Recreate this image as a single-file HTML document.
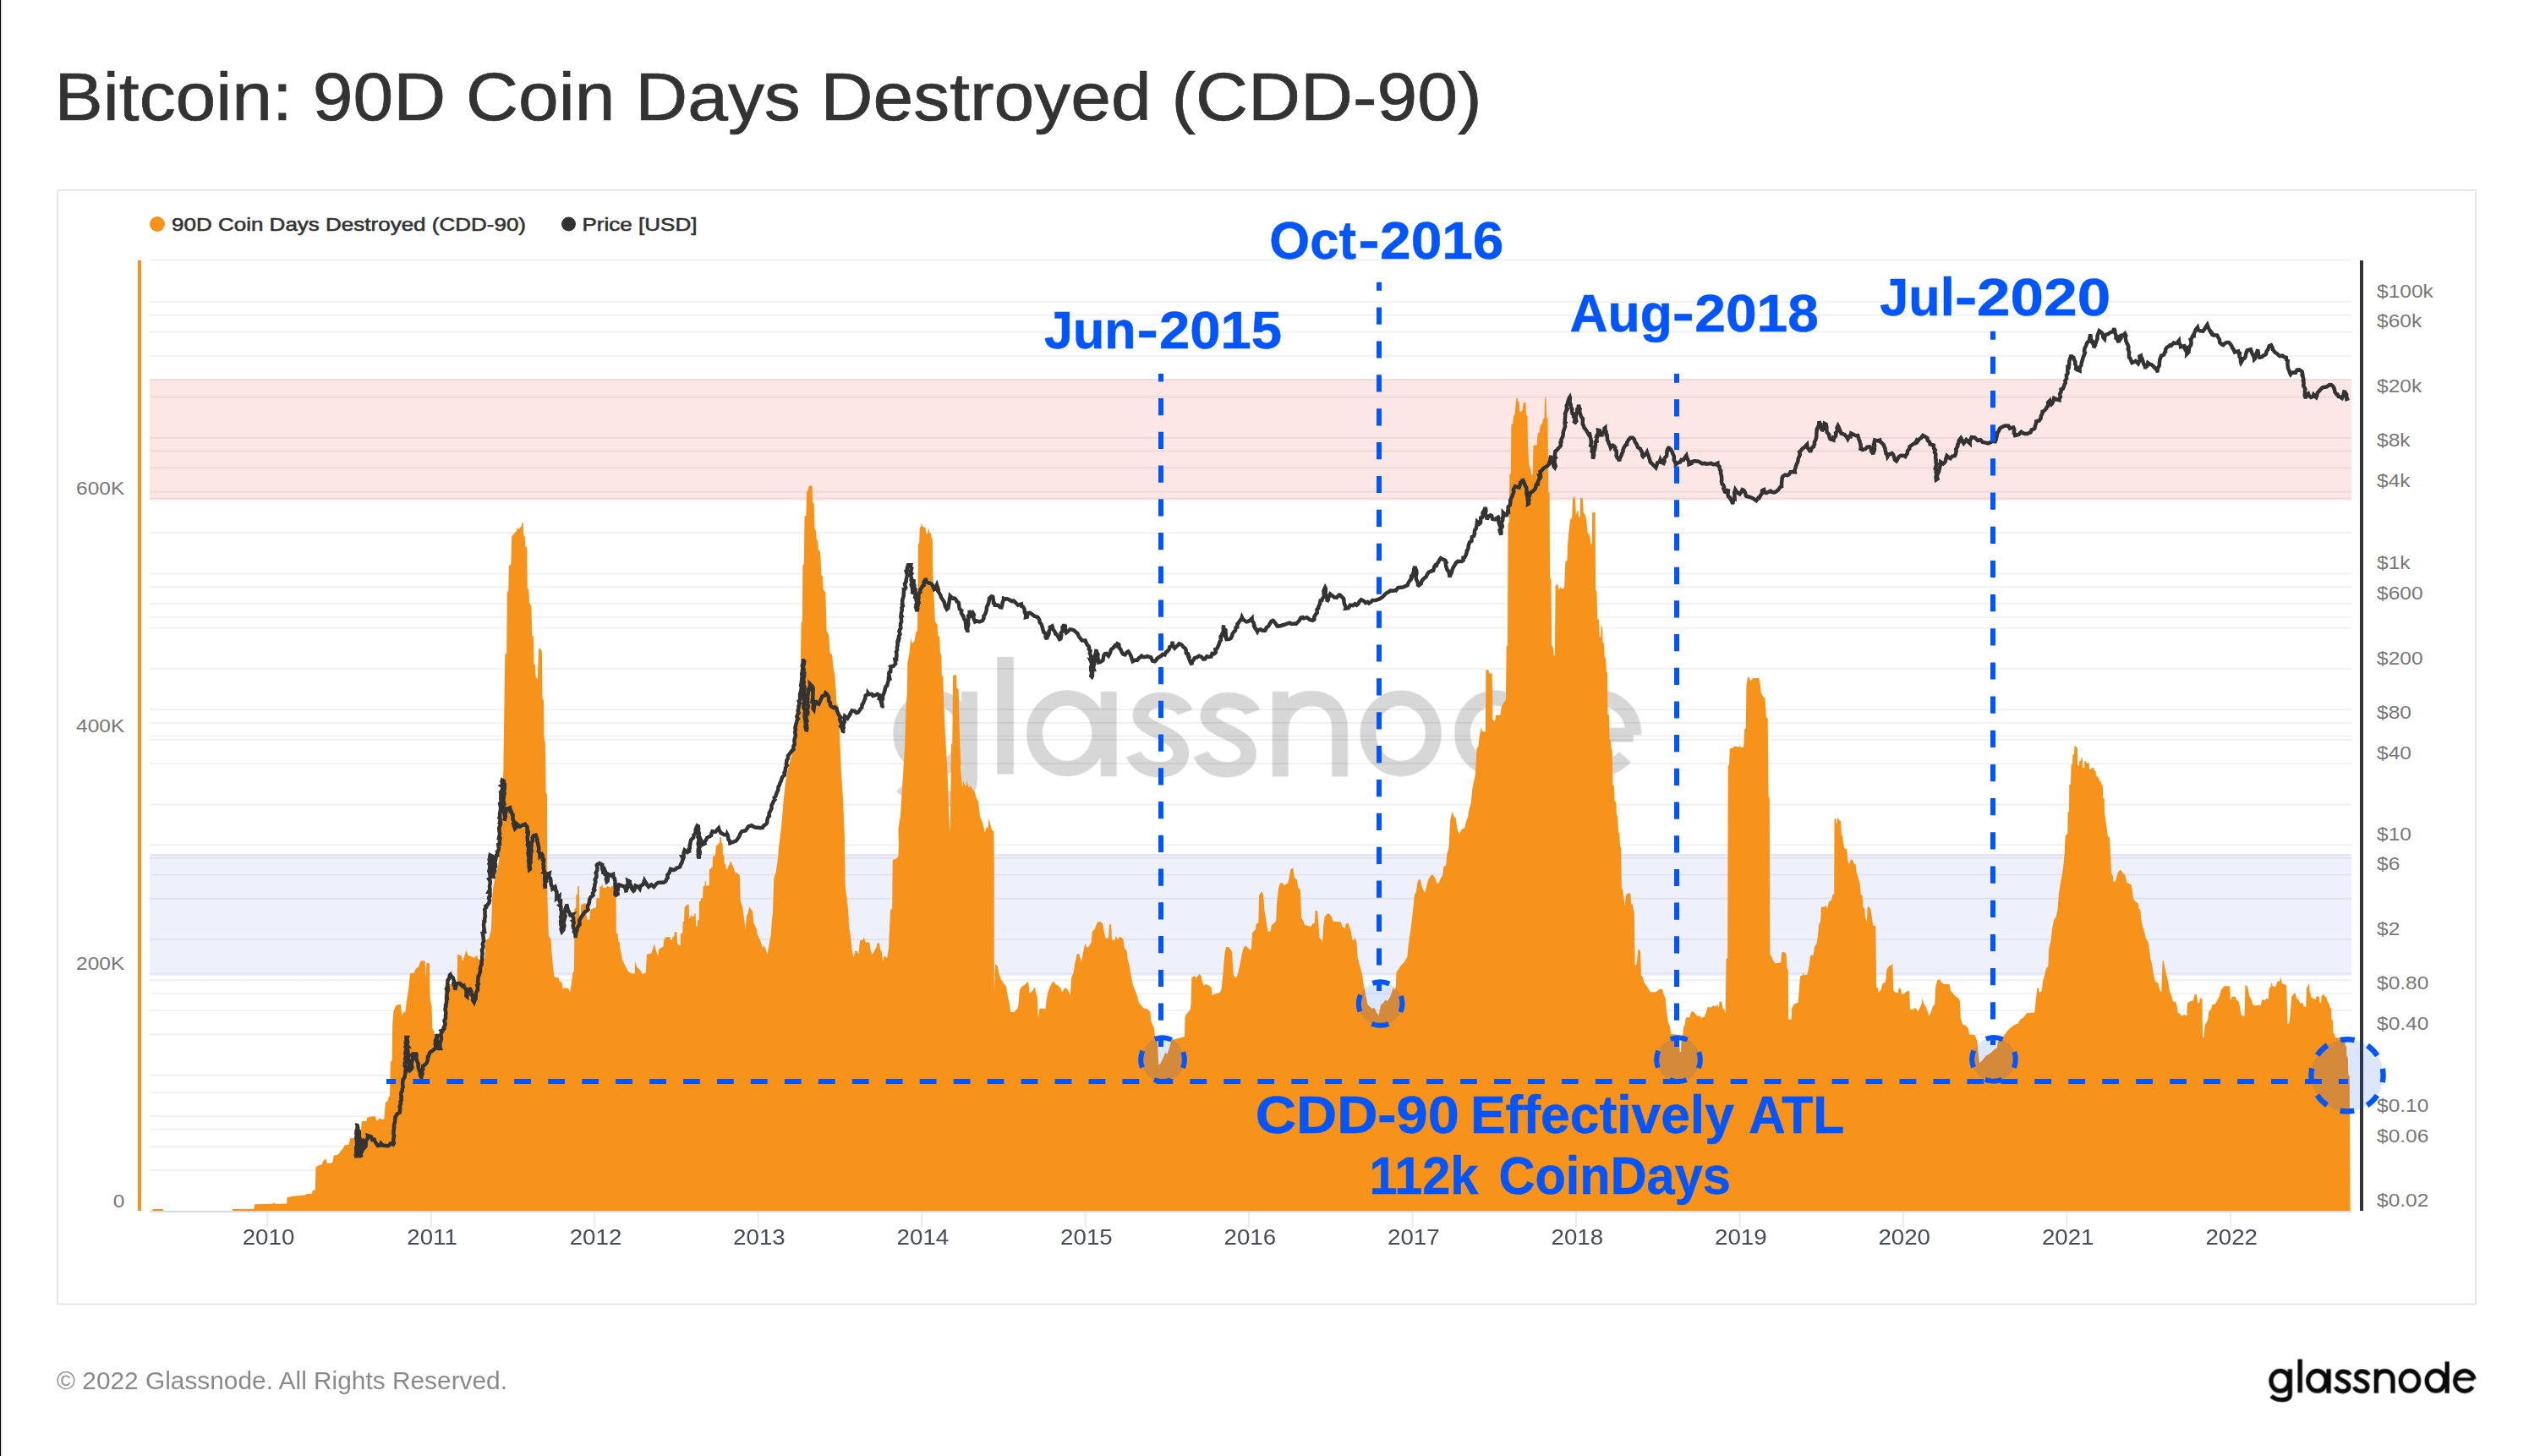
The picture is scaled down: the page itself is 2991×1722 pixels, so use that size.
<!DOCTYPE html>
<html><head><meta charset="utf-8"><title>Bitcoin: 90D Coin Days Destroyed (CDD-90)</title>
<style>html,body{margin:0;padding:0;background:#fff;}body{width:2991px;height:1722px;overflow:hidden;position:relative;font-family:"Liberation Sans",sans-serif;}svg{position:absolute;left:0;top:0;}text{font-family:"Liberation Sans",sans-serif;}</style></head><body>
<svg width="2991" height="1722" viewBox="0 0 2991 1722">
<defs><g id="gn" fill="none" stroke-width="49" stroke-linecap="butt" stroke-linejoin="round"><ellipse cx="250" cy="404" rx="100.5" ry="111.5"/><path d="M359.5,272 V548 C359.5,600 320,613 262,613 C215,612 180,598 152,570"/><path d="M470,163 V533" stroke-width="51"/><ellipse cx="660" cy="404" rx="100.5" ry="111.5"/><path d="M787.5,272 V540"/><path id="gs" d="M1022,338 C1005,292 895,278 886,345 C880,398 1008,398 1010,466 C1012,532 892,540 864,470"/><use href="#gs" x="207"/><path d="M1315,272 V540 M1315,400 C1315,325 1365,294 1410,294 C1460,294 1498,325 1498,395 V540"/><ellipse cx="1685" cy="404" rx="100.5" ry="111.5"/><ellipse cx="1975" cy="404" rx="100.5" ry="111.5"/><path d="M2099.5,190 V540"/></g><g id="ge1" fill="none" stroke-width="49"><path d="M2193,385 H2397" stroke-width="34"/><path d="M2397.4,386 A105.5,111.5 0 1 0 2381,468"/></g><g id="ge2" fill="none" stroke-width="49"><path d="M2193,409 H2400" stroke-width="45"/><path d="M2400.3,409 A105.5,111.5 0 1 0 2374,478"/></g></defs>
<rect x="0" y="0" width="2991" height="1722" fill="#fff"/>
<rect x="0" y="0" width="1.2" height="1722" fill="#000"/>
<rect x="1.2" y="0" width="1.6" height="1722" fill="#e6e6e6"/>
<text id="title" x="64.5" y="142" font-size="79.6" fill="#333" stroke="#333" stroke-width="0.7" textLength="1688" lengthAdjust="spacingAndGlyphs">Bitcoin: 90D Coin Days Destroyed (CDD-90)</text>
<rect x="68" y="225" width="2860" height="1317.5" fill="none" stroke="#e6e6e6" stroke-width="2"/>
<circle cx="186" cy="265" r="9" fill="#f7931a"/>
<text id="leg1" x="203" y="273.1" font-size="22.8" fill="#333" stroke="#333" stroke-width="0.6" textLength="419" lengthAdjust="spacingAndGlyphs">90D Coin Days Destroyed (CDD-90)</text>
<circle cx="672.5" cy="265" r="8.5" fill="#333"/>
<text id="leg2" x="688.5" y="273.1" font-size="22.8" fill="#333" stroke="#333" stroke-width="0.6" textLength="136" lengthAdjust="spacingAndGlyphs">Price [USD]</text>
<rect x="177" y="448" width="2604" height="143.7" fill="#fde6e6"/>
<rect x="177" y="1010" width="2604" height="144" fill="#eef0fc"/>
<path d="M177,1432.5H2781 M177,1384.1H2781 M177,1355.8H2781 M177,1335.7H2781 M177,1320.2H2781 M177,1271.8H2781 M177,1223.4H2781 M177,1195.1H2781 M177,1175.0H2781 M177,1159.4H2781 M177,1111.0H2781 M177,1062.6H2781 M177,1034.5H2781 M177,1014.7H2781 M177,999.3H2781 M177,951.6H2781 M177,903.2H2781 M177,874.9H2781 M177,854.8H2781 M177,839.2H2781 M177,790.9H2781 M177,742.5H2781 M177,714.2H2781 M177,694.1H2781 M177,678.5H2781 M177,630.1H2781 M177,581.7H2781 M177,553.4H2781 M177,533.3H2781 M177,517.8H2781 M177,469.4H2781 M177,421.0H2781 M177,392.7H2781 M177,372.6H2781 M177,357.0H2781 M177,1292.0H2781 M177,1151.5H2781 M177,1011.0H2781 M177,870.5H2781 M177,730.0H2781 M177,589.5H2781 M177,449.0H2781 M177,307.3H2781" stroke="rgba(30,30,50,0.072)" stroke-width="1.7" fill="none"/>
<g opacity="0.16" stroke="#000" transform="translate(1008.2,715.7) scale(0.3848,0.375)"><use href="#gn"/><use href="#ge2"/></g>
<path d="M177,1432 L180.4,1431.9 L180.4,1430.0 L193.0,1430.0 L193.0,1431.9 L274.9,1431.9 L274.9,1430.0 L300.5,1429.8 L301.3,1424.3 L322.7,1423.8 L324.0,1422.2 L325.3,1423.8 L339.1,1423.5 L339.6,1416.2 L347.5,1414.4 L360.5,1413.6 L361.8,1412.3 L368.9,1411.8 L369.6,1408.1 L372.8,1407.6 L373.5,1380.5 L376.2,1378.4 L380.9,1377.1 L381.9,1373.2 L385.3,1370.5 L387.1,1375.8 L393.1,1375.2 L394.9,1366.6 L399.6,1365.8 L402.3,1362.2 L406.2,1357.5 L407.5,1354.4 L412.7,1353.6 L414.0,1346.3 L420.5,1345.8 L421.8,1336.6 L427.0,1336.6 L427.8,1326.2 L433.6,1325.7 L434.1,1321.7 L438.8,1320.4 L444.0,1320.2 L445.3,1325.7 L449.2,1322.3 L451.3,1324.1 L454.4,1323.6 L455.8,1304.0 L458.4,1302.2 L459.7,1297.5 L461.0,1296.2 L461.8,1255.7 L463.6,1254.4 L464.1,1214.0 L465.4,1195.7 L468.8,1188.4 L474.0,1187.9 L475.3,1200.9 L477.9,1195.7 L479.2,1198.3 L481.1,1182.7 L483.2,1169.6 L485.0,1151.3 L489.7,1150.8 L491.5,1146.1 L494.9,1143.5 L497.5,1136.5 L502.7,1136.2 L503.5,1156.6 L504.6,1138.3 L507.9,1139.6 L508.7,1181.3 L510.6,1190.5 L511.3,1216.6 L513.2,1219.2 L515.0,1229.6 L521.0,1221.8 L525.4,1206.1 L526.2,1164.4 L540.6,1163.1 L541.1,1128.4 L545.8,1130.5 L547.1,1137.0 L551.5,1123.9 L553.6,1129.9 L558.8,1131.8 L560.1,1133.1 L564.1,1129.9 L565.4,1134.4 L570.6,1134.4 L573.2,1135.7 L574.5,1112.2 L578.4,1109.6 L581.0,1099.1 L582.3,1060.0 L583.5,1048.0 L587.4,1031.0 L590.0,1019.2 L592.6,967.1 L595.3,912.3 L597.3,774.0 L599.2,772.7 L599.7,701.0 L601.3,698.4 L601.8,669.6 L604.4,667.0 L605.2,634.4 L608.3,630.5 L610.9,627.9 L611.7,624.0 L613.5,625.8 L614.8,624.0 L616.9,622.2 L617.4,618.2 L618.7,618.2 L619.3,633.1 L620.8,634.4 L621.3,646.2 L623.2,647.5 L623.7,695.7 L625.3,697.0 L626.0,712.7 L628.4,716.6 L629.2,751.8 L631.0,753.2 L631.5,785.8 L633.1,787.1 L633.6,800.1 L635.7,804.0 L637.0,768.8 L638.3,766.2 L640.9,770.1 L641.4,826.1 L643.0,828.7 L643.5,873.1 L644.8,878.3 L645.6,937.0 L646.9,939.7 L647.4,1060.0 L648.9,1107.0 L651.5,1110.9 L653.3,1135.7 L655.4,1155.3 L660.6,1156.6 L661.9,1160.5 L664.5,1161.8 L665.8,1169.6 L668.4,1168.3 L672.3,1169.1 L674.2,1173.5 L676.3,1159.2 L677.6,1150.0 L678.9,1148.7 L679.3,1110.6 L679.3,1074.7 L681.2,1074.1 L681.4,1058.7 L683.0,1058.0 L683.3,1048.2 L684.9,1048.2 L685.1,1063.6 L685.5,1092.7 L686.7,1092.7 L687.1,1070.4 L689.2,1069.2 L690.5,1068.3 L692.7,1068.3 L693.2,1076.0 L694.2,1087.1 L695.6,1087.7 L697.3,1087.7 L697.6,1079.7 L699.1,1075.4 L702.2,1074.1 L705.0,1073.5 L705.3,1063.0 L706.5,1061.8 L708.8,1062.4 L709.2,1048.8 L711.2,1048.5 L711.7,1046.1 L712.7,1046.6 L713.1,1049.8 L717.0,1049.8 L717.7,1048.2 L720.7,1048.5 L721.4,1049.8 L723.0,1049.4 L723.6,1047.8 L726.6,1048.2 L726.9,1058.7 L728.5,1059.3 L728.8,1103.8 L730.6,1104.4 L731.2,1113.1 L732.7,1114.3 L733.1,1120.0 L736.3,1135.7 L740.2,1143.5 L742.8,1148.7 L746.7,1151.3 L750.6,1151.9 L751.4,1136.2 L753.2,1143.5 L757.2,1147.4 L759.8,1151.9 L763.7,1150.8 L765.0,1128.4 L770.2,1127.8 L774.1,1116.1 L775.4,1122.6 L778.0,1130.5 L779.3,1122.6 L784.6,1119.5 L785.4,1111.8 L786.9,1108.4 L792.4,1108.1 L793.1,1111.6 L794.9,1111.8 L795.5,1108.1 L797.4,1107.5 L797.6,1102.2 L800.5,1102.2 L801.1,1115.5 L802.9,1118.0 L804.8,1118.0 L805.0,1104.4 L807.3,1103.8 L807.6,1090.2 L809.1,1089.6 L809.5,1072.5 L811.3,1072.0 L811.6,1070.0 L814.7,1070.0 L815.1,1085.9 L816.5,1085.6 L817.2,1082.2 L818.8,1083.4 L819.6,1084.0 L821.2,1083.4 L821.5,1080.3 L822.7,1080.3 L823.1,1095.7 L824.6,1095.5 L825.2,1088.3 L826.7,1088.1 L827.0,1066.1 L828.7,1065.5 L828.9,1062.4 L831.1,1062.1 L831.6,1048.2 L833.6,1047.8 L833.8,1042.0 L834.8,1042.0 L835.1,1047.5 L838.8,1047.5 L839.0,1028.0 L840.6,1027.5 L841.3,1025.9 L842.7,1025.7 L843.1,1012.9 L844.7,1012.3 L846.2,1010.5 L846.8,1000.6 L848.7,999.3 L849.7,997.5 L851.1,997.1 L851.4,990.1 L853.0,990.1 L853.4,997.1 L854.6,997.5 L854.9,1010.5 L856.3,1011.7 L856.7,1021.6 L858.3,1022.8 L858.6,1027.8 L859.9,1028.0 L862.6,1022.2 L863.9,1018.3 L866.5,1023.5 L869.2,1031.3 L873.1,1033.4 L874.9,1035.2 L875.7,1065.2 L878.3,1073.1 L879.6,1083.5 L881.7,1099.2 L883.0,1083.5 L884.8,1079.6 L886.1,1072.5 L890.0,1077.8 L891.3,1091.3 L894.5,1097.9 L896.0,1105.7 L899.2,1112.2 L901.8,1121.3 L903.6,1118.0 L905.7,1122.7 L907.5,1129.2 L909.1,1120.0 L911.7,1105.7 L912.7,1091.3 L914.0,1078.3 L915.3,1039.1 L917.4,1032.6 L919.5,1019.6 L921.3,1000.0 L921.5,998.4 L924.1,977.5 L926.7,946.2 L929.3,922.7 L931.9,909.6 L934.5,899.2 L938.4,886.2 L941.0,862.7 L943.6,836.6 L944.9,820.0 L945.7,805.3 L946.8,802.7 L947.5,736.2 L948.9,734.9 L949.4,668.3 L950.9,667.0 L951.5,610.9 L953.3,609.6 L954.1,582.2 L955.4,579.6 L957.2,574.4 L960.6,574.4 L961.1,594.0 L962.7,595.3 L963.5,625.8 L965.0,627.4 L965.8,638.3 L967.1,639.6 L967.9,650.1 L969.7,651.4 L970.5,658.7 L971.3,680.1 L972.9,681.4 L973.6,697.0 L976.3,700.4 L977.6,746.6 L980.2,750.5 L981.5,771.4 L984.1,774.6 L985.4,788.4 L987.5,800.1 L988.8,820.0 L989.3,831.4 L991.9,836.6 L993.2,873.1 L995.0,914.9 L997.1,946.2 L999.0,993.2 L998.9,1000.0 L999.6,1047.0 L1001.5,1062.6 L1003.0,1074.4 L1004.1,1096.6 L1006.2,1108.3 L1007.5,1122.7 L1009.6,1133.1 L1011.4,1124.7 L1014.0,1125.3 L1015.3,1129.2 L1017.1,1112.2 L1020.5,1111.7 L1021.8,1108.3 L1023.6,1114.3 L1027.0,1114.8 L1028.3,1114.3 L1029.6,1124.0 L1031.7,1129.2 L1034.9,1122.7 L1036.2,1121.3 L1038.0,1114.3 L1040.1,1116.1 L1041.4,1124.0 L1042.7,1124.7 L1044.0,1137.0 L1045.8,1130.5 L1049.2,1133.1 L1051.0,1121.3 L1053.1,1076.2 L1055.2,1074.4 L1055.7,1017.0 L1059.7,1015.7 L1062.3,1013.0 L1063.0,1000.0 L1062.4,980.1 L1065.0,964.4 L1067.6,922.7 L1070.2,880.9 L1071.5,836.6 L1072.8,820.0 L1073.3,784.5 L1075.4,772.7 L1077.2,754.5 L1078.8,761.0 L1081.4,758.4 L1083.2,747.9 L1085.1,745.3 L1085.9,643.5 L1087.2,642.2 L1087.7,624.0 L1089.2,622.7 L1089.8,618.2 L1091.1,622.7 L1094.5,624.0 L1095.5,631.8 L1097.1,630.5 L1098.1,624.0 L1099.4,630.0 L1101.0,631.3 L1101.5,635.7 L1102.8,637.0 L1103.3,680.1 L1105.9,734.9 L1108.6,738.8 L1109.3,751.8 L1111.2,753.2 L1112.0,772.7 L1113.3,774.0 L1113.8,798.8 L1115.3,800.1 L1115.9,820.0 L1116.4,836.6 L1118.5,878.3 L1120.6,914.9 L1122.4,967.1 L1123.7,985.3 L1125.0,880.9 L1126.3,878.3 L1127.1,798.7 L1131.0,798.0 L1131.5,813.1 L1133.6,815.7 L1134.7,862.7 L1136.7,914.9 L1138.0,931.8 L1139.4,924.0 L1142.0,930.5 L1143.3,924.0 L1145.9,931.8 L1147.2,929.2 L1150.1,933.1 L1150.5,933.6 L1153.1,937.5 L1154.9,944.0 L1157.0,947.9 L1159.1,966.2 L1160.9,970.1 L1162.7,975.3 L1164.8,984.5 L1166.9,977.9 L1168.7,979.2 L1169.5,967.5 L1171.3,975.3 L1173.2,981.9 L1175.3,983.2 L1175.8,1020.0 L1175.8,1174.8 L1177.1,1140.4 L1179.7,1142.2 L1181.5,1151.4 L1183.6,1157.9 L1186.2,1161.8 L1190.1,1167.0 L1191.4,1176.1 L1193.5,1185.3 L1195.4,1197.0 L1199.3,1197.0 L1203.2,1193.1 L1204.5,1187.9 L1205.8,1170.9 L1208.4,1167.0 L1212.3,1164.4 L1216.2,1160.5 L1217.5,1174.8 L1220.7,1172.2 L1224.1,1167.0 L1225.4,1176.1 L1226.7,1177.5 L1228.0,1204.9 L1229.3,1193.1 L1233.2,1192.6 L1236.3,1193.6 L1237.9,1181.4 L1239.7,1172.2 L1243.6,1163.1 L1246.2,1160.5 L1248.3,1163.9 L1251.5,1165.7 L1254.1,1168.3 L1256.2,1173.5 L1259.3,1168.3 L1261.9,1169.6 L1264.5,1173.5 L1265.8,1177.5 L1267.1,1156.6 L1269.7,1150.1 L1271.0,1140.9 L1273.6,1128.4 L1276.3,1127.9 L1278.9,1138.3 L1280.7,1127.9 L1283.3,1116.1 L1285.9,1121.3 L1288.0,1118.7 L1290.6,1114.8 L1291.9,1101.8 L1294.5,1099.2 L1297.9,1090.8 L1301.0,1090.0 L1304.2,1092.6 L1306.3,1104.4 L1307.6,1109.6 L1311.0,1109.6 L1312.0,1093.9 L1314.1,1092.6 L1314.9,1111.7 L1318.8,1111.7 L1319.8,1106.5 L1321.9,1110.9 L1324.5,1107.8 L1328.4,1110.4 L1329.7,1121.3 L1332.4,1124.0 L1333.7,1134.4 L1335.8,1142.2 L1337.6,1154.0 L1339.7,1163.9 L1342.3,1170.9 L1344.9,1177.5 L1346.7,1185.3 L1350.6,1190.0 L1352.7,1192.6 L1357.2,1193.6 L1360.5,1197.0 L1361.1,1206.2 L1363.2,1212.7 L1365.0,1215.3 L1365.8,1224.4 L1368.9,1227.0 L1370.2,1259.7 L1372.8,1257.0 L1375.4,1251.8 L1378.0,1245.3 L1380.6,1246.6 L1383.2,1238.8 L1385.9,1228.3 L1388.5,1229.6 L1392.4,1228.3 L1397.6,1227.0 L1401.0,1225.7 L1401.5,1202.2 L1404.1,1198.3 L1407.5,1194.4 L1408.6,1187.4 L1409.3,1156.6 L1412.0,1154.0 L1414.6,1156.6 L1418.5,1151.9 L1420.6,1154.0 L1421.6,1159.2 L1423.7,1165.7 L1426.3,1163.9 L1430.2,1165.7 L1432.8,1168.3 L1433.6,1177.5 L1436.7,1175.4 L1442.5,1174.3 L1444.6,1169.6 L1446.7,1148.7 L1448.5,1126.6 L1450.1,1120.0 L1453.0,1120.1 L1457.0,1125.3 L1458.8,1154.0 L1462.2,1156.6 L1464.8,1148.8 L1467.4,1135.7 L1470.0,1122.7 L1472.6,1118.2 L1476.5,1121.4 L1479.7,1124.0 L1481.2,1103.1 L1484.9,1099.2 L1485.7,1092.7 L1488.3,1091.4 L1489.1,1058.7 L1492.2,1054.0 L1494.3,1058.7 L1495.3,1075.7 L1497.4,1088.7 L1499.5,1101.8 L1502.6,1101.8 L1503.9,1094.0 L1507.3,1091.4 L1509.2,1088.7 L1509.9,1070.5 L1511.8,1052.2 L1513.9,1044.4 L1517.0,1043.9 L1518.3,1047.0 L1523.0,1044.4 L1524.8,1037.9 L1526.1,1028.7 L1529.2,1026.1 L1530.8,1037.9 L1533.9,1040.5 L1535.3,1049.6 L1537.9,1052.7 L1539.2,1086.1 L1541.3,1088.7 L1543.1,1094.0 L1548.3,1095.3 L1550.1,1096.6 L1552.2,1092.7 L1554.8,1091.4 L1555.6,1077.0 L1558.0,1077.0 L1559.3,1092.7 L1560.6,1109.6 L1562.7,1110.9 L1564.0,1114.3 L1565.3,1094.0 L1566.6,1084.8 L1569.2,1080.9 L1571.8,1080.4 L1574.4,1083.5 L1577.0,1090.1 L1582.2,1090.1 L1586.1,1090.8 L1587.4,1096.1 L1590.8,1097.9 L1591.9,1092.1 L1594.5,1092.1 L1596.1,1096.6 L1597.9,1101.8 L1599.2,1110.9 L1601.3,1112.2 L1602.3,1108.3 L1604.4,1113.5 L1605.7,1133.1 L1608.3,1142.2 L1610.9,1151.4 L1612.8,1164.4 L1614.8,1174.9 L1617.5,1187.9 L1620.1,1190.5 L1622.7,1193.1 L1625.3,1191.8 L1627.9,1197.0 L1630.5,1201.0 L1633.1,1187.9 L1635.7,1186.6 L1638.3,1182.7 L1640.9,1184.0 L1643.5,1180.1 L1646.2,1173.6 L1647.5,1167.0 L1648.8,1170.9 L1650.9,1167.0 L1651.4,1150.1 L1654.0,1146.2 L1656.6,1142.2 L1660.5,1138.3 L1664.4,1131.8 L1665.7,1117.5 L1667.6,1104.4 L1669.1,1094.0 L1670.9,1078.3 L1672.8,1058.7 L1674.9,1054.8 L1676.2,1044.4 L1678.0,1039.9 L1680.1,1040.5 L1681.4,1048.3 L1683.2,1052.2 L1685.3,1056.1 L1687.4,1047.0 L1689.2,1040.5 L1691.8,1036.0 L1694.4,1034.5 L1697.0,1037.9 L1699.7,1045.7 L1702.3,1043.1 L1703.6,1039.2 L1706.2,1035.3 L1707.5,1024.8 L1710.1,1023.5 L1711.4,1009.2 L1713.5,1002.6 L1715.3,968.7 L1717.9,959.6 L1719.7,966.1 L1721.8,967.4 L1723.1,979.1 L1725.8,986.5 L1728.4,981.2 L1732.3,979.1 L1733.6,972.6 L1736.2,966.1 L1737.5,957.0 L1739.6,950.4 L1741.3,933.1 L1743.1,924.0 L1744.9,916.1 L1746.5,884.8 L1748.3,883.5 L1749.6,871.8 L1751.7,860.0 L1753.0,865.2 L1756.9,865.2 L1757.4,791.9 L1760.6,792.4 L1761.3,796.6 L1764.7,796.6 L1765.3,850.9 L1767.9,853.5 L1769.2,845.7 L1774.4,845.7 L1775.7,836.5 L1778.3,831.3 L1780.9,827.4 L1781.7,764.5 L1783.0,763.2 L1783.5,619.6 L1784.8,617.0 L1785.4,560.9 L1786.9,559.6 L1787.4,502.2 L1789.3,500.9 L1790.1,491.8 L1791.4,490.4 L1792.1,483.9 L1793.4,470.9 L1794.5,470.4 L1795.8,476.1 L1796.6,474.8 L1797.4,487.8 L1799.2,486.5 L1800.5,485.2 L1801.8,476.1 L1804.4,476.1 L1804.9,490.4 L1806.5,491.2 L1807.0,525.7 L1808.3,549.2 L1810.1,554.4 L1811.5,562.2 L1812.8,560.9 L1813.5,527.0 L1817.5,526.2 L1818.8,512.6 L1820.6,511.3 L1821.9,502.2 L1824.0,500.9 L1824.8,495.7 L1826.6,494.4 L1827.1,472.2 L1828.4,468.3 L1829.2,493.8 L1830.5,494.9 L1831.3,581.8 L1832.6,583.1 L1833.1,683.6 L1834.4,684.9 L1835.2,763.2 L1837.0,765.8 L1837.8,775.7 L1838.9,774.9 L1839.6,692.7 L1841.5,691.4 L1842.2,690.1 L1843.5,697.9 L1845.4,694.0 L1846.7,696.6 L1850.1,695.3 L1851.4,664.0 L1853.5,662.7 L1854.0,645.7 L1855.3,630.1 L1857.1,613.9 L1859.2,613.1 L1860.0,590.9 L1861.8,586.2 L1863.1,590.9 L1863.9,609.2 L1865.2,604.5 L1866.5,604.0 L1867.0,611.8 L1868.6,611.3 L1869.1,588.3 L1871.7,589.6 L1872.8,606.6 L1874.9,609.2 L1876.2,614.4 L1877.5,630.1 L1880.1,632.7 L1881.4,643.6 L1882.7,643.1 L1883.2,606.1 L1886.6,606.1 L1887.1,697.9 L1888.4,699.2 L1889.2,731.8 L1891.0,733.1 L1891.8,754.0 L1893.1,752.7 L1893.7,740.2 L1895.0,741.0 L1895.7,760.0 L1897.0,761.1 L1897.8,777.5 L1899.1,778.8 L1899.9,794.5 L1901.0,795.8 L1901.5,844.4 L1903.0,845.7 L1903.6,874.4 L1904.9,875.7 L1905.7,886.1 L1906.7,887.4 L1907.5,927.9 L1908.8,929.2 L1909.6,947.4 L1911.4,948.7 L1911.9,963.9 L1913.2,964.9 L1914.0,984.0 L1915.3,985.3 L1916.1,1000.9 L1917.1,1002.2 L1917.9,1050.5 L1919.2,1051.8 L1920.5,1062.3 L1921.8,1071.4 L1923.1,1058.4 L1925.8,1056.3 L1928.4,1057.0 L1929.1,1068.8 L1931.0,1070.1 L1931.8,1076.6 L1932.8,1077.9 L1933.6,1141.9 L1935.4,1140.6 L1936.2,1135.3 L1937.5,1122.3 L1940.1,1124.9 L1940.9,1153.6 L1942.7,1154.9 L1944.8,1162.7 L1947.9,1166.6 L1951.8,1173.2 L1958.4,1173.2 L1962.3,1170.0 L1966.2,1170.0 L1967.5,1175.8 L1969.3,1180.0 L1969.7,1180.1 L1971.1,1197.0 L1972.9,1208.8 L1975.0,1214.0 L1976.3,1223.1 L1978.9,1223.1 L1985.4,1224.4 L1986.7,1244.0 L1988.0,1244.0 L1988.8,1224.4 L1990.1,1224.4 L1991.1,1215.3 L1992.7,1211.4 L1993.8,1203.6 L1998.5,1203.0 L1999.8,1197.0 L2002.4,1196.3 L2005.0,1198.4 L2007.6,1202.3 L2010.2,1201.0 L2011.5,1203.6 L2015.4,1203.0 L2018.0,1197.0 L2019.9,1190.5 L2023.2,1191.8 L2025.9,1189.2 L2029.2,1190.5 L2031.1,1187.9 L2032.9,1191.8 L2033.7,1184.0 L2036.3,1185.3 L2037.6,1193.1 L2039.7,1194.4 L2040.7,1199.7 L2041.5,1134.4 L2042.8,1133.1 L2043.2,1132.7 L2043.7,905.7 L2045.0,904.4 L2045.8,885.6 L2048.4,884.8 L2051.0,883.0 L2054.9,883.0 L2057.0,884.0 L2057.5,880.4 L2058.8,884.0 L2062.2,883.5 L2063.3,862.1 L2064.8,861.3 L2065.4,810.4 L2066.7,802.6 L2068.0,800.0 L2070.6,805.2 L2073.2,802.1 L2080.5,802.1 L2081.5,807.8 L2082.8,819.6 L2084.9,823.5 L2087.5,826.1 L2088.9,848.3 L2090.7,849.6 L2091.5,942.2 L2092.8,943.5 L2093.3,1128.3 L2093.0,1128.3 L2095.1,1130.9 L2097.0,1136.1 L2099.6,1139.5 L2106.1,1138.2 L2107.4,1126.5 L2110.0,1125.7 L2112.6,1128.3 L2113.4,1145.3 L2114.7,1146.6 L2115.2,1205.8 L2118.6,1205.8 L2119.1,1192.8 L2121.8,1187.6 L2126.5,1185.7 L2127.5,1174.5 L2129.1,1154.4 L2131.7,1153.6 L2132.2,1150.0 L2133.5,1153.6 L2137.4,1152.6 L2139.5,1142.7 L2141.3,1130.1 L2144.7,1129.6 L2145.8,1120.5 L2148.4,1116.1 L2149.9,1107.4 L2151.0,1094.4 L2153.1,1089.2 L2153.9,1072.7 L2157.0,1072.7 L2159.6,1070.9 L2160.9,1075.3 L2163.0,1066.5 L2166.1,1064.4 L2167.4,1058.6 L2169.2,1057.1 L2169.5,968.4 L2171.3,967.8 L2171.9,975.7 L2173.4,966.5 L2175.3,969.9 L2177.1,971.0 L2177.9,987.4 L2179.2,988.7 L2179.9,996.0 L2181.3,1003.1 L2184.4,1004.4 L2185.2,1017.4 L2187.0,1022.1 L2189.1,1016.1 L2191.7,1017.9 L2192.7,1021.3 L2194.8,1022.6 L2195.6,1031.8 L2197.4,1037.0 L2199.5,1043.5 L2200.8,1057.9 L2202.7,1059.2 L2203.4,1072.7 L2205.3,1074.8 L2206.0,1084.7 L2207.9,1090.0 L2208.7,1072.7 L2210.5,1072.2 L2212.6,1076.1 L2213.6,1082.7 L2215.2,1094.4 L2218.3,1095.2 L2219.1,1167.5 L2220.9,1168.8 L2221.7,1174.0 L2224.8,1170.1 L2226.1,1164.1 L2230.1,1160.9 L2231.4,1146.6 L2234.0,1142.7 L2236.6,1141.4 L2238.4,1140.1 L2239.2,1171.4 L2241.8,1174.0 L2244.9,1174.0 L2245.7,1168.2 L2248.3,1170.1 L2249.1,1176.1 L2252.2,1175.3 L2254.3,1172.7 L2258.2,1171.9 L2259.0,1193.6 L2262.7,1194.3 L2264.0,1191.7 L2266.6,1193.6 L2267.9,1196.2 L2270.5,1192.3 L2272.6,1187.0 L2273.6,1180.5 L2275.2,1186.5 L2277.8,1190.9 L2279.6,1196.2 L2281.5,1201.4 L2283.5,1197.5 L2285.6,1190.9 L2288.2,1187.6 L2289.3,1166.2 L2291.4,1158.9 L2294.0,1158.3 L2296.6,1162.2 L2299.2,1164.1 L2305.7,1164.1 L2307.0,1171.9 L2309.6,1174.5 L2312.3,1177.9 L2316.2,1180.5 L2318.0,1184.4 L2318.8,1204.0 L2321.4,1211.8 L2325.3,1213.1 L2327.9,1217.0 L2329.2,1223.6 L2335.7,1224.1 L2338.4,1231.4 L2339.7,1245.8 L2341.0,1257.5 L2344.9,1253.6 L2348.8,1248.4 L2354.0,1245.8 L2357.9,1241.8 L2361.8,1239.2 L2363.1,1231.4 L2367.1,1228.8 L2371.0,1223.6 L2373.6,1219.7 L2377.5,1215.7 L2382.7,1211.8 L2386.6,1210.5 L2389.2,1205.8 L2393.2,1203.2 L2397.1,1198.0 L2406.2,1197.5 L2407.5,1185.7 L2409.3,1168.8 L2410.9,1168.2 L2411.9,1174.0 L2414.8,1171.9 L2415.9,1160.9 L2417.9,1154.4 L2419.8,1145.8 L2422.4,1142.7 L2423.2,1121.8 L2425.3,1114.0 L2427.1,1098.3 L2429.2,1087.9 L2431.8,1084.0 L2433.6,1074.8 L2434.9,1057.1 L2437.5,1040.9 L2439.6,1029.9 L2441.4,1013.5 L2442.7,988.7 L2445.3,985.6 L2445.6,960.2 L2447.0,959.9 L2447.3,928.1 L2449.0,927.6 L2449.5,904.6 L2450.9,904.1 L2451.4,892.6 L2453.0,892.1 L2453.5,882.3 L2455.0,882.3 L2455.5,884.0 L2456.9,884.3 L2457.3,905.8 L2459.0,905.3 L2459.3,900.1 L2461.0,899.8 L2461.6,896.4 L2462.9,896.4 L2463.3,908.0 L2465.0,908.0 L2465.3,900.1 L2466.7,900.1 L2467.2,902.0 L2470.7,902.4 L2471.0,909.8 L2473.1,909.8 L2473.6,908.0 L2476.7,908.4 L2477.0,911.8 L2478.7,912.2 L2479.1,917.8 L2481.0,918.3 L2481.3,920.1 L2482.7,920.4 L2483.0,923.8 L2484.7,924.2 L2485.3,928.1 L2486.8,928.6 L2487.3,944.1 L2488.7,944.4 L2489.0,959.9 L2492.8,988.7 L2494.9,990.8 L2496.2,1012.2 L2497.0,1033.6 L2498.8,1035.7 L2499.6,1043.5 L2502.2,1041.4 L2504.8,1031.8 L2508.0,1028.4 L2510.6,1032.5 L2513.2,1034.4 L2515.3,1044.0 L2520.5,1046.1 L2521.5,1051.9 L2523.1,1063.1 L2525.7,1066.5 L2528.9,1068.3 L2529.4,1074.8 L2531.5,1076.1 L2532.2,1086.6 L2534.1,1095.7 L2536.2,1102.2 L2538.0,1110.1 L2540.6,1114.0 L2541.9,1123.1 L2543.2,1133.5 L2545.0,1140.1 L2547.1,1153.1 L2549.2,1160.9 L2552.3,1162.2 L2554.4,1170.9 L2556.3,1173.5 L2557.6,1136.9 L2558.9,1136.1 L2560.2,1144.0 L2562.3,1153.1 L2564.1,1160.4 L2565.9,1171.9 L2568.5,1178.7 L2570.1,1184.4 L2573.2,1184.9 L2574.5,1189.1 L2575.8,1198.0 L2578.4,1198.8 L2579.7,1201.4 L2583.7,1200.1 L2586.3,1201.4 L2587.0,1186.5 L2590.2,1184.4 L2594.1,1183.1 L2595.4,1176.6 L2598.0,1176.1 L2599.3,1185.7 L2601.1,1186.5 L2601.9,1180.5 L2604.5,1181.3 L2605.1,1227.5 L2606.6,1226.2 L2607.7,1212.6 L2611.1,1206.6 L2612.4,1196.2 L2615.0,1193.6 L2616.3,1188.3 L2619.7,1187.6 L2622.3,1183.1 L2624.9,1177.9 L2626.7,1171.4 L2629.3,1167.5 L2630.6,1166.2 L2637.2,1166.2 L2637.9,1183.1 L2639.8,1178.7 L2643.7,1178.7 L2645.0,1182.3 L2647.6,1184.4 L2648.9,1189.6 L2650.2,1198.8 L2652.0,1201.4 L2654.6,1201.4 L2655.4,1164.9 L2658.0,1166.2 L2659.3,1172.7 L2660.6,1179.2 L2662.5,1181.3 L2664.0,1187.0 L2665.9,1189.6 L2669.8,1189.1 L2671.9,1188.3 L2673.7,1189.6 L2675.0,1183.1 L2677.6,1181.8 L2678.9,1183.9 L2680.2,1180.5 L2682.8,1181.8 L2683.6,1168.8 L2685.4,1167.5 L2686.2,1162.2 L2688.0,1166.2 L2691.2,1167.5 L2693.3,1160.9 L2695.9,1160.4 L2697.7,1156.2 L2699.0,1163.0 L2701.1,1164.1 L2704.2,1164.9 L2705.5,1211.0 L2707.1,1210.5 L2708.4,1201.4 L2710.2,1179.2 L2712.8,1175.3 L2714.7,1174.5 L2716.2,1180.5 L2718.8,1183.1 L2720.7,1187.0 L2723.3,1185.7 L2724.6,1190.2 L2727.2,1190.9 L2728.0,1168.8 L2730.1,1164.9 L2731.0,1162.6 L2731.5,1172.5 L2732.6,1175.0 L2733.6,1179.9 L2736.4,1180.8 L2737.2,1182.1 L2738.9,1181.6 L2739.4,1178.3 L2743.0,1178.8 L2743.5,1185.7 L2745.1,1186.0 L2745.5,1178.8 L2747.1,1176.6 L2748.4,1176.1 L2749.6,1178.3 L2751.2,1179.1 L2752.1,1182.4 L2753.7,1186.0 L2755.0,1188.2 L2755.7,1192.0 L2757.0,1193.1 L2757.5,1205.5 L2759.0,1207.1 L2759.5,1222.0 L2761.1,1223.3 L2762.0,1226.9 L2765.2,1227.7 L2766.1,1226.9 L2773.2,1227.7 L2773.8,1236.8 L2775.1,1237.6 L2775.5,1249.1 L2776.8,1250.8 L2777.3,1271.4 L2778.8,1273.0 L2779.6,1432 Z" fill="#f7931a"/>
<path d="M422.6,1328.8 L422.2,1329.9 L422.8,1331.9 L422.5,1335.1 L421.5,1337.8 L421.4,1339.8 L421.4,1341.0 L422.1,1345.6 L421.4,1345.9 L422.3,1350.4 L422.2,1350.9 L422.9,1352.0 L422.6,1355.1 L421.2,1356.8 L421.5,1361.2 L421.2,1362.7 L422.0,1364.3 L421.7,1365.6 L421.6,1369.2 L420.8,1366.0 L422.1,1364.4 L421.5,1362.6 L421.9,1359.4 L422.6,1358.4 L421.7,1355.8 L422.3,1354.4 L422.8,1350.3 L423.4,1347.4 L422.4,1347.2 L422.0,1344.1 L421.8,1342.4 L423.3,1339.8 L423.6,1336.7 L423.4,1335.3 L423.1,1332.7 L423.2,1334.8 L423.7,1338.5 L423.0,1339.8 L422.1,1342.1 L423.2,1345.3 L423.5,1345.2 L422.7,1348.6 L421.9,1350.2 L422.2,1351.3 L421.9,1355.6 L422.0,1356.1 L422.5,1360.3 L421.9,1361.1 L422.8,1364.7 L423.2,1366.9 L422.6,1367.9 L422.3,1365.4 L422.6,1364.7 L423.9,1360.1 L422.5,1358.1 L422.7,1356.7 L423.5,1353.7 L422.5,1352.0 L423.4,1350.2 L424.6,1348.4 L423.9,1345.9 L424.4,1341.9 L424.9,1342.0 L425.0,1339.8 L424.4,1336.6 L424.2,1338.5 L423.6,1341.4 L423.5,1341.8 L423.8,1344.3 L424.0,1346.2 L423.4,1348.7 L423.5,1351.6 L423.4,1355.4 L424.5,1355.3 L423.8,1358.1 L424.0,1359.6 L424.9,1364.6 L424.1,1365.1 L424.2,1367.4 L423.6,1363.8 L424.2,1362.0 L425.3,1359.4 L423.9,1359.6 L425.0,1354.8 L425.2,1352.1 L425.3,1352.8 L426.1,1349.6 L425.1,1346.3 L425.7,1344.4 L425.1,1347.5 L425.9,1349.8 L425.6,1350.3 L426.5,1355.0 L426.7,1356.6 L426.7,1358.7 L425.6,1360.2 L425.9,1360.9 L425.3,1363.9 L426.3,1366.9 L427.0,1366.6 L426.7,1364.8 L428.2,1361.6 L428.4,1360.8 L428.6,1356.4 L427.3,1353.5 L427.5,1351.0 L428.5,1350.8 L428.4,1347.1 L429.7,1349.6 L430.0,1353.3 L429.6,1355.4 L431.0,1357.5 L432.4,1356.0 L432.8,1352.6 L432.3,1351.2 L433.3,1348.9 L435.2,1345.2 L434.9,1343.1 L438.8,1344.4 L440.3,1348.0 L442.7,1347.7 L444.0,1351.0 L444.6,1351.8 L446.6,1354.9 L449.3,1354.6 L450.5,1352.3 L452.5,1354.6 L455.8,1354.9 L459.0,1355.1 L460.1,1354.4 L461.9,1352.4 L464.9,1353.6 L466.0,1351.6 L465.3,1350.1 L465.3,1347.4 L466.2,1342.9 L465.2,1340.7 L465.4,1339.2 L465.6,1336.2 L466.2,1334.0 L465.8,1332.7 L466.4,1328.7 L467.1,1327.5 L467.1,1324.9 L467.5,1321.0 L468.8,1319.1 L470.1,1317.0 L472.7,1315.7 L473.1,1311.6 L473.2,1309.5 L472.7,1308.9 L474.0,1305.3 L473.6,1303.0 L474.8,1301.1 L474.3,1298.7 L474.9,1297.4 L474.2,1294.5 L474.7,1291.3 L475.9,1289.9 L475.7,1288.5 L476.6,1285.2 L476.2,1283.2 L476.2,1281.6 L476.3,1278.9 L476.6,1276.6 L477.4,1275.8 L478.7,1273.5 L479.2,1270.1 L480.1,1267.1 L479.5,1267.0 L480.1,1262.1 L478.7,1260.8 L478.7,1257.9 L478.8,1257.0 L480.2,1255.5 L479.1,1252.6 L480.1,1248.5 L480.6,1248.9 L479.4,1246.6 L479.8,1242.8 L481.0,1241.7 L479.5,1238.1 L480.3,1235.6 L479.7,1233.2 L480.8,1230.0 L480.5,1229.1 L480.5,1227.0 L481.8,1227.0 L481.0,1228.8 L482.3,1231.8 L481.3,1235.7 L482.9,1238.0 L481.7,1238.1 L481.7,1242.1 L482.3,1242.4 L482.7,1247.3 L483.6,1247.6 L482.4,1252.1 L483.2,1253.1 L483.6,1256.4 L482.9,1256.9 L484.3,1260.7 L483.4,1265.0 L484.5,1266.2 L487.1,1263.5 L487.5,1262.1 L486.7,1259.8 L486.8,1257.4 L487.8,1253.3 L488.1,1252.8 L487.8,1247.8 L488.4,1246.6 L492.3,1246.6 L492.7,1248.2 L492.3,1250.3 L492.6,1252.9 L493.4,1255.6 L494.7,1258.0 L494.5,1260.1 L494.9,1263.5 L495.3,1264.1 L495.8,1266.1 L497.4,1270.0 L497.0,1271.8 L498.3,1274.0 L499.4,1270.6 L499.5,1269.4 L499.2,1268.5 L499.3,1265.3 L500.2,1264.6 L500.1,1260.9 L501.5,1260.2 L504.0,1257.9 L505.3,1255.7 L505.9,1252.9 L506.0,1249.8 L506.8,1249.5 L508.0,1245.3 L509.2,1244.0 L511.1,1243.1 L514.5,1240.1 L515.5,1238.2 L514.7,1234.4 L515.0,1232.7 L515.0,1230.2 L515.5,1229.4 L517.2,1225.7 L516.6,1223.1 L516.4,1227.0 L516.7,1227.5 L516.4,1230.0 L517.6,1232.8 L517.3,1235.3 L517.2,1236.9 L518.4,1240.1 L521.0,1240.1 L520.3,1237.5 L520.3,1233.9 L520.9,1232.3 L521.5,1230.9 L521.9,1229.0 L521.9,1227.4 L521.4,1223.3 L522.6,1220.4 L521.8,1219.2 L524.0,1218.4 L525.4,1216.6 L524.7,1215.3 L526.5,1212.3 L526.4,1210.5 L525.5,1207.2 L526.4,1205.8 L527.1,1203.4 L526.9,1201.2 L527.3,1198.2 L526.6,1193.7 L526.6,1192.4 L527.5,1190.5 L526.9,1189.3 L527.9,1186.4 L528.2,1184.4 L528.1,1180.0 L528.8,1180.1 L528.4,1177.2 L528.9,1173.5 L529.2,1171.8 L528.0,1169.6 L529.4,1167.2 L529.6,1167.4 L529.3,1163.3 L529.4,1162.0 L529.6,1159.2 L531.1,1157.4 L531.9,1153.4 L532.7,1152.6 L533.3,1154.0 L535.8,1156.4 L536.6,1159.2 L537.0,1160.0 L536.3,1163.1 L537.8,1166.8 L538.1,1167.9 L538.0,1170.9 L538.9,1168.2 L539.7,1164.5 L540.6,1163.1 L544.0,1163.0 L546.7,1166.2 L548.4,1165.7 L548.8,1167.5 L551.0,1169.6 L551.9,1173.4 L551.6,1173.4 L551.4,1177.9 L552.3,1178.7 L552.4,1176.4 L552.9,1173.6 L555.1,1169.7 L554.9,1168.3 L556.5,1170.6 L557.6,1173.5 L557.3,1176.4 L558.8,1177.4 L559.4,1178.5 L559.1,1182.6 L560.7,1185.3 L561.6,1182.7 L562.7,1181.3 L562.3,1178.6 L562.9,1178.0 L562.6,1175.5 L564.4,1171.2 L564.9,1170.9 L565.1,1167.4 L564.3,1165.5 L565.8,1163.9 L564.9,1161.2 L565.4,1159.2 L565.6,1155.1 L565.9,1155.0 L566.9,1152.7 L568.0,1148.7 L567.8,1145.6 L568.5,1143.0 L568.5,1143.0 L569.7,1140.2 L569.4,1138.2 L570.3,1134.6 L570.1,1130.6 L570.3,1129.6 L570.6,1127.8 L570.0,1123.5 L570.6,1122.6 L571.6,1119.1 L570.9,1117.5 L570.7,1116.5 L572.2,1112.7 L571.7,1110.6 L571.7,1108.6 L571.1,1105.5 L571.3,1105.6 L572.1,1101.2 L573.0,1101.4 L572.3,1096.4 L572.0,1093.9 L572.4,1091.6 L572.4,1089.9 L573.2,1089.6 L573.2,1086.1 L573.9,1083.4 L573.5,1081.4 L573.6,1078.4 L573.2,1075.8 L575.2,1072.9 L574.5,1071.7 L576.5,1070.2 L578.4,1067.8 L579.1,1064.6 L578.1,1062.5 L578.4,1060.9 L579.5,1059.9 L579.4,1055.0 L577.8,1054.9 L579.5,1051.9 L579.0,1048.2 L578.6,1048.9 L579.5,1046.4 L579.8,1042.2 L578.2,1039.6 L579.1,1039.1 L579.9,1036.9 L579.4,1034.8 L579.1,1031.9 L578.3,1030.4 L578.8,1028.5 L579.6,1024.3 L578.6,1021.9 L579.7,1021.1 L578.7,1016.8 L579.6,1016.2 L579.3,1012.8 L579.6,1011.4 L582.2,1012.7 L582.5,1013.5 L582.1,1017.3 L583.4,1020.3 L583.4,1022.1 L582.3,1023.8 L583.8,1027.6 L582.7,1027.8 L583.1,1032.2 L583.1,1033.3 L583.7,1037.8 L583.5,1038.8 L583.2,1035.1 L583.7,1034.1 L584.6,1031.2 L585.1,1030.7 L584.8,1026.8 L586.0,1024.9 L585.9,1022.4 L585.0,1021.9 L585.4,1020.3 L586.1,1016.6 L586.7,1013.4 L586.9,1012.0 L588.4,1011.5 L588.0,1007.6 L588.8,1007.3 L590.0,1003.6 L589.4,999.9 L589.3,998.7 L591.0,998.1 L590.8,996.2 L591.3,991.8 L589.9,991.5 L591.1,986.3 L591.0,985.2 L590.5,982.8 L590.2,979.5 L590.5,978.3 L591.9,975.3 L592.0,973.4 L590.9,973.1 L591.9,969.6 L590.5,967.4 L591.2,966.6 L591.0,962.6 L592.4,959.3 L591.6,959.5 L592.3,954.8 L591.9,954.0 L591.1,950.4 L593.0,948.8 L592.8,948.6 L592.2,944.3 L593.5,943.2 L592.3,941.3 L592.5,937.6 L592.1,936.9 L594.0,934.3 L594.2,930.1 L593.0,929.3 L594.5,928.6 L593.5,924.1 L593.9,922.7 L596.0,924.0 L595.9,926.2 L596.9,927.5 L596.7,931.5 L596.7,933.8 L596.3,934.6 L595.8,937.0 L596.7,938.3 L595.6,942.7 L595.8,942.8 L595.4,946.5 L596.0,950.2 L597.1,952.4 L595.9,951.8 L595.6,955.3 L596.8,957.4 L595.9,959.5 L596.7,962.6 L597.0,965.4 L596.9,965.3 L597.2,968.1 L596.6,971.0 L597.2,968.2 L597.9,965.2 L597.4,963.0 L597.7,962.6 L598.9,958.4 L599.2,956.6 L603.1,955.3 L603.6,959.3 L604.4,959.2 L605.6,963.0 L606.6,963.6 L606.3,968.3 L607.0,969.7 L608.2,973.6 L607.2,974.2 L607.8,976.5 L609.1,980.1 L611.3,977.8 L611.7,974.9 L614.8,977.5 L618.2,975.8 L620.0,974.9 L620.0,973.4 L621.9,975.8 L623.5,978.1 L623.7,980.8 L623.4,984.0 L624.8,984.2 L624.3,988.2 L623.7,989.7 L623.7,991.5 L624.0,995.1 L624.9,996.2 L623.8,998.9 L624.9,1001.8 L625.4,1003.0 L624.8,1005.3 L625.8,1008.6 L624.5,1009.4 L625.2,1013.0 L625.8,1013.8 L625.0,1017.9 L625.6,1018.8 L625.5,1023.2 L625.6,1024.2 L625.8,1025.9 L626.2,1028.4 L627.1,1027.6 L626.4,1022.7 L627.4,1020.4 L626.3,1020.2 L627.3,1017.6 L627.7,1014.2 L627.7,1013.1 L628.0,1008.5 L627.4,1007.4 L628.8,1006.2 L627.9,1003.0 L628.7,1000.3 L628.4,997.2 L629.3,995.6 L629.9,994.5 L629.7,990.6 L631.1,988.2 L633.6,987.6 L635.1,991.9 L635.5,993.2 L635.1,994.3 L636.8,999.2 L636.1,998.5 L637.1,1001.8 L637.3,1004.8 L636.7,1006.7 L638.2,1008.7 L638.5,1012.9 L641.0,1010.5 L642.0,1012.1 L641.8,1016.5 L643.1,1016.8 L642.9,1020.3 L642.5,1022.3 L643.2,1024.6 L642.6,1026.5 L643.9,1030.9 L642.8,1032.1 L644.3,1032.8 L644.6,1035.4 L644.1,1038.9 L644.4,1041.4 L644.6,1043.0 L644.3,1046.2 L644.4,1048.8 L644.7,1050.6 L644.9,1048.0 L644.3,1046.2 L645.5,1042.6 L646.3,1042.0 L646.0,1037.6 L646.3,1035.0 L646.6,1033.9 L649.7,1032.7 L649.3,1035.0 L649.6,1037.5 L650.8,1038.7 L651.4,1041.3 L651.5,1045.1 L652.9,1049.0 L653.4,1051.2 L656.5,1048.8 L656.8,1049.6 L657.1,1052.9 L658.3,1054.4 L658.4,1059.5 L658.4,1061.1 L658.3,1062.4 L661.4,1059.9 L661.1,1063.7 L661.9,1066.0 L663.0,1065.7 L663.0,1070.5 L661.9,1070.9 L663.5,1072.6 L663.3,1076.0 L664.2,1077.6 L664.1,1079.6 L663.6,1084.4 L663.2,1084.7 L663.9,1087.2 L663.1,1089.1 L663.4,1093.9 L664.5,1096.1 L663.6,1098.1 L663.7,1099.6 L664.5,1101.9 L666.4,1099.5 L666.9,1096.7 L667.5,1095.0 L667.2,1093.7 L666.4,1091.7 L667.6,1087.4 L668.2,1084.7 L668.7,1083.3 L667.7,1081.6 L668.2,1078.4 L668.6,1075.1 L669.6,1072.4 L670.2,1070.7 L670.1,1069.2 L671.0,1073.4 L671.5,1075.1 L671.9,1077.2 L672.8,1078.1 L674.4,1082.2 L677.5,1081.5 L676.8,1082.6 L678.1,1085.8 L678.1,1089.5 L677.6,1089.6 L678.8,1091.2 L677.7,1094.5 L678.1,1096.8 L679.1,1099.5 L679.0,1102.2 L680.1,1103.5 L680.6,1106.8 L680.8,1109.3 L680.6,1107.8 L681.4,1102.4 L682.4,1100.7 L682.6,1098.0 L684.3,1094.5 L685.6,1093.3 L685.3,1089.4 L685.2,1088.5 L686.7,1085.9 L688.1,1083.6 L689.2,1082.2 L690.7,1080.1 L691.7,1078.4 L694.2,1077.2 L695.6,1075.8 L694.9,1074.2 L695.1,1070.9 L696.6,1068.6 L697.1,1065.3 L697.0,1064.5 L698.5,1061.1 L701.6,1058.7 L701.0,1056.4 L703.2,1052.6 L702.1,1051.6 L703.1,1049.2 L703.4,1046.3 L704.4,1042.8 L703.8,1040.7 L703.7,1040.1 L705.5,1037.1 L705.3,1033.9 L704.6,1032.7 L706.3,1029.1 L706.5,1026.7 L705.7,1023.3 L706.5,1022.2 L709.0,1021.0 L712.1,1022.8 L711.8,1023.5 L712.3,1028.0 L713.2,1030.6 L713.5,1030.9 L713.3,1033.9 L714.4,1031.2 L715.2,1029.0 L716.2,1031.3 L715.6,1034.0 L717.3,1034.9 L717.6,1036.5 L716.8,1039.5 L717.7,1042.6 L718.6,1041.8 L719.1,1037.7 L719.8,1035.5 L719.5,1033.9 L722.0,1035.2 L725.1,1033.9 L725.5,1037.7 L726.9,1038.9 L727.3,1041.7 L727.6,1044.8 L727.4,1046.6 L728.0,1048.8 L727.7,1050.6 L728.1,1051.5 L727.6,1054.7 L727.5,1057.8 L728.5,1058.7 L730.6,1057.4 L730.2,1053.7 L730.4,1054.3 L731.1,1049.6 L730.7,1047.1 L731.9,1046.3 L735.6,1047.5 L738.7,1048.8 L739.8,1051.5 L740.5,1054.1 L740.9,1055.6 L740.3,1053.5 L741.1,1051.9 L742.3,1049.8 L741.1,1047.3 L742.9,1045.2 L742.4,1041.4 L744.8,1042.6 L744.7,1043.8 L745.3,1045.4 L747.3,1050.0 L747.3,1051.2 L749.2,1053.7 L750.3,1052.7 L751.1,1048.9 L751.6,1047.5 L754.7,1048.8 L756.6,1051.2 L757.7,1047.5 L760.3,1046.3 L761.7,1042.9 L762.2,1041.4 L763.1,1043.0 L764.6,1045.1 L764.9,1046.2 L767.1,1048.8 L770.2,1046.3 L773.3,1048.8 L774.4,1047.6 L776.4,1045.1 L778.3,1043.9 L780.7,1043.8 L785.0,1043.8 L787.4,1042.0 L788.1,1040.1 L789.8,1038.0 L789.3,1034.9 L791.2,1032.7 L792.0,1031.1 L793.1,1027.8 L796.8,1029.0 L798.4,1028.4 L800.5,1026.5 L804.2,1025.3 L805.1,1022.3 L806.6,1019.9 L806.7,1019.1 L807.8,1015.6 L806.6,1013.2 L808.6,1013.2 L808.5,1009.2 L809.7,1005.5 L812.8,1008.0 L815.3,1006.7 L814.7,1004.4 L815.9,1003.1 L815.6,999.9 L816.3,998.8 L816.4,996.9 L817.2,993.2 L820.2,990.7 L820.6,987.3 L822.2,985.8 L822.7,983.3 L822.6,981.5 L823.2,979.7 L824.6,976.5 L825.8,977.1 L826.2,980.3 L826.1,981.1 L825.7,983.5 L826.7,984.8 L826.7,986.8 L825.4,989.9 L826.8,992.9 L825.9,996.4 L825.6,997.3 L826.2,1000.4 L826.7,1002.4 L825.9,1003.6 L825.6,1007.5 L826.6,1009.4 L825.7,1010.7 L826.9,1013.4 L826.4,1015.4 L825.9,1013.0 L827.6,1010.0 L826.5,1008.0 L827.7,1007.4 L826.8,1003.0 L827.7,1001.8 L827.6,998.4 L828.5,995.0 L828.9,993.2 L829.8,995.0 L831.4,998.7 L833.5,997.6 L833.1,996.5 L835.1,993.2 L836.2,990.9 L838.8,989.4 L841.0,988.3 L841.7,985.1 L842.5,983.3 L846.2,983.9 L847.5,982.2 L849.9,979.6 L850.4,981.4 L852.4,985.1 L856.1,987.0 L859.9,987.6 L860.1,986.6 L860.7,987.7 L861.5,992.8 L862.9,994.5 L863.3,997.1 L866.0,996.1 L867.5,995.7 L870.6,994.5 L871.7,993.0 L874.0,989.7 L874.6,988.4 L875.8,985.3 L877.6,983.1 L879.7,982.7 L881.9,982.2 L883.7,979.9 L884.9,977.5 L888.8,976.2 L892.1,978.1 L894.1,978.8 L897.0,978.7 L898.9,979.2 L901.9,978.8 L903.1,976.6 L905.8,974.9 L907.1,973.3 L907.5,969.6 L907.9,968.0 L909.0,965.6 L909.9,965.1 L909.6,961.9 L911.0,959.2 L912.3,956.5 L912.5,956.0 L912.5,952.3 L913.5,950.7 L914.9,947.5 L916.5,945.5 L915.7,943.5 L917.3,941.9 L918.0,939.5 L918.8,937.0 L920.2,934.7 L920.2,933.8 L920.6,930.6 L921.8,928.5 L922.8,925.3 L923.4,924.6 L925.1,919.3 L926.3,918.2 L928.0,916.2 L927.5,913.7 L928.6,912.4 L928.9,908.8 L929.0,908.1 L930.8,905.2 L929.8,903.8 L930.5,899.7 L930.4,899.3 L932.1,896.6 L931.9,894.0 L933.8,891.6 L935.8,888.8 L938.4,886.2 L938.1,885.3 L938.6,881.9 L939.8,880.2 L939.4,876.1 L939.8,873.3 L940.6,871.6 L940.9,869.0 L940.2,866.6 L940.6,864.0 L941.0,862.7 L940.4,861.1 L941.2,857.3 L941.6,855.8 L942.2,854.0 L942.9,850.8 L943.8,850.1 L942.4,847.7 L943.6,844.4 L944.7,843.0 L943.6,840.9 L944.8,836.0 L944.0,836.7 L945.5,832.2 L944.8,829.5 L945.4,829.3 L946.2,826.1 L946.1,822.6 L947.4,822.4 L946.2,820.3 L947.2,817.6 L947.6,815.7 L948.0,813.1 L947.1,810.3 L947.9,808.2 L948.0,806.3 L948.3,802.7 L948.6,799.6 L948.2,796.8 L948.9,794.2 L949.0,792.2 L949.2,790.9 L949.5,789.8 L948.7,787.3 L949.8,784.1 L950.3,782.6 L950.2,779.2 L950.0,781.2 L951.2,782.4 L950.6,786.4 L949.5,788.6 L950.8,791.9 L950.1,794.3 L950.5,795.0 L951.3,795.8 L951.0,799.9 L950.3,803.0 L950.4,804.0 L950.8,807.2 L950.2,808.4 L950.7,811.0 L951.5,812.4 L951.5,815.1 L950.9,816.9 L951.0,821.4 L951.3,823.1 L950.7,823.8 L950.7,826.9 L951.4,829.8 L950.3,831.9 L952.0,833.6 L950.4,835.1 L950.4,837.0 L952.2,840.6 L951.7,843.4 L952.2,845.1 L951.5,847.0 L952.0,849.7 L952.4,851.9 L952.6,852.9 L952.8,856.0 L953.3,857.2 L952.4,859.2 L953.8,864.3 L953.5,865.3 L953.9,862.6 L954.3,861.6 L954.0,857.6 L953.6,855.8 L953.7,853.5 L954.4,852.9 L953.4,849.4 L953.5,845.6 L955.1,844.8 L955.4,842.1 L953.8,839.6 L955.0,839.0 L955.9,835.2 L954.9,831.7 L955.5,829.8 L954.6,826.9 L955.4,826.1 L954.8,824.3 L955.4,822.8 L955.7,820.0 L956.2,814.9 L957.7,813.2 L958.1,810.6 L958.0,809.2 L960.6,811.8 L959.9,815.0 L961.3,817.5 L961.5,817.3 L961.4,821.6 L961.3,824.6 L961.0,827.0 L962.1,826.2 L960.9,830.5 L962.6,831.0 L961.7,835.4 L961.6,838.1 L962.4,839.2 L962.9,835.2 L963.2,834.2 L963.9,831.9 L964.5,828.7 L965.8,831.7 L968.4,832.7 L969.1,830.9 L970.6,827.8 L971.1,826.7 L972.3,823.5 L975.2,822.5 L976.3,819.6 L978.4,821.5 L980.2,824.8 L980.0,828.9 L981.9,831.1 L981.8,833.0 L982.8,835.3 L985.9,837.2 L987.3,836.4 L989.3,837.9 L990.1,841.4 L991.0,843.0 L992.4,846.0 L993.2,847.0 L994.2,848.5 L993.0,850.6 L994.2,853.8 L995.3,857.0 L994.2,859.0 L996.1,861.2 L996.0,861.5 L996.9,865.4 L996.6,866.6 L997.3,865.5 L996.9,860.4 L997.6,860.2 L997.2,857.6 L998.9,853.5 L998.6,852.5 L998.6,848.5 L999.0,847.0 L1002.3,849.6 L1003.2,848.1 L1005.5,844.9 L1005.5,843.8 L1007.6,840.5 L1010.7,840.9 L1012.8,843.1 L1014.6,842.7 L1016.8,839.9 L1017.6,838.5 L1019.3,836.6 L1019.5,833.5 L1020.2,833.0 L1021.4,830.5 L1022.2,828.3 L1023.2,826.1 L1023.7,822.5 L1026.4,821.4 L1026.6,819.6 L1027.8,821.2 L1031.0,820.8 L1032.4,823.0 L1035.2,822.2 L1037.6,820.9 L1040.2,822.2 L1039.7,826.2 L1041.8,827.0 L1041.6,828.6 L1042.5,831.6 L1043.2,835.1 L1042.8,836.6 L1043.6,835.7 L1042.8,830.3 L1042.9,828.4 L1042.9,825.6 L1044.0,825.8 L1044.1,822.2 L1044.8,821.5 L1046.5,816.6 L1046.7,815.5 L1046.6,815.2 L1047.7,811.8 L1049.2,811.0 L1050.1,807.1 L1050.6,805.3 L1050.9,801.8 L1052.2,802.0 L1051.2,796.6 L1051.6,795.2 L1053.2,794.5 L1053.5,789.4 L1053.2,788.4 L1056.4,787.8 L1058.5,785.8 L1059.2,784.9 L1058.4,779.8 L1060.1,779.9 L1060.3,775.4 L1060.5,774.5 L1060.0,770.7 L1061.1,768.8 L1060.9,765.4 L1061.7,763.3 L1061.5,761.0 L1062.6,758.3 L1063.0,756.7 L1062.0,756.8 L1063.2,753.2 L1063.0,752.4 L1064.5,750.1 L1063.4,746.5 L1063.6,745.8 L1065.4,742.7 L1065.0,740.1 L1065.1,737.3 L1066.1,735.5 L1065.9,732.1 L1065.4,729.5 L1066.5,728.8 L1065.7,727.6 L1066.1,723.8 L1066.8,721.8 L1066.4,718.8 L1067.9,716.6 L1066.9,714.8 L1067.4,713.8 L1067.2,711.8 L1067.3,709.2 L1068.8,704.7 L1068.6,702.6 L1068.9,701.0 L1068.9,697.6 L1069.5,697.8 L1071.2,695.2 L1069.9,690.7 L1071.8,687.6 L1071.5,686.6 L1072.2,683.6 L1072.9,680.3 L1072.7,678.9 L1071.7,675.5 L1073.2,674.8 L1072.8,672.3 L1074.1,668.3 L1077.2,668.3 L1076.7,670.4 L1078.2,671.9 L1077.7,673.9 L1077.0,678.2 L1078.1,678.7 L1077.0,680.6 L1078.2,684.2 L1077.6,685.5 L1078.4,689.4 L1078.9,691.2 L1077.8,691.8 L1078.9,695.2 L1079.0,696.3 L1079.3,699.5 L1078.8,702.3 L1079.7,701.0 L1079.3,695.9 L1080.4,694.9 L1080.5,691.8 L1079.5,691.2 L1080.1,686.7 L1080.6,685.3 L1080.7,687.8 L1080.3,689.7 L1081.4,691.9 L1081.1,694.7 L1082.8,697.4 L1082.5,698.4 L1082.3,701.3 L1082.7,703.7 L1082.2,706.3 L1084.1,707.4 L1083.5,709.7 L1083.7,710.3 L1084.7,713.2 L1083.4,715.1 L1083.7,719.6 L1083.5,719.6 L1084.6,723.1 L1085.2,719.9 L1084.2,719.0 L1085.5,716.5 L1086.0,713.0 L1086.6,712.7 L1085.3,708.6 L1086.4,707.6 L1086.3,704.2 L1086.8,702.0 L1087.2,701.0 L1088.4,700.2 L1088.5,697.3 L1090.6,694.0 L1091.1,693.1 L1092.6,692.2 L1092.6,688.3 L1094.3,686.4 L1094.5,684.0 L1095.8,688.0 L1097.6,689.2 L1100.7,690.0 L1102.8,691.8 L1103.4,693.9 L1104.9,697.0 L1106.3,695.9 L1108.0,691.8 L1109.2,695.4 L1109.9,697.5 L1109.1,698.8 L1110.6,701.0 L1112.8,705.0 L1112.8,706.0 L1114.6,708.8 L1115.9,710.7 L1116.7,712.1 L1117.6,715.8 L1117.8,717.0 L1119.8,720.5 L1121.3,719.2 L1121.8,716.5 L1122.1,715.0 L1122.8,710.1 L1122.9,708.6 L1123.5,706.4 L1123.7,704.9 L1126.4,707.6 L1128.9,707.5 L1130.4,708.7 L1131.5,711.2 L1133.7,712.7 L1134.1,715.3 L1134.5,718.1 L1134.9,720.3 L1137.3,722.4 L1136.8,724.6 L1138.0,727.1 L1139.4,728.6 L1139.9,731.1 L1142.0,734.9 L1142.0,737.2 L1142.4,739.3 L1142.5,742.8 L1144.3,745.7 L1144.1,747.9 L1144.5,746.0 L1144.0,743.8 L1144.7,740.9 L1145.3,738.3 L1144.9,735.2 L1145.0,733.7 L1145.5,731.6 L1145.1,728.4 L1146.9,725.7 L1146.6,724.1 L1146.7,721.8 L1147.4,726.0 L1148.6,727.9 L1150.1,729.7 L1149.6,725.9 L1150.5,724.8 L1151.9,727.2 L1151.0,729.7 L1152.3,733.4 L1153.1,735.3 L1154.9,734.4 L1158.3,735.3 L1161.8,734.1 L1163.5,731.3 L1163.4,728.6 L1164.4,727.5 L1165.4,725.9 L1166.4,722.7 L1166.8,721.2 L1166.9,718.3 L1168.2,715.6 L1169.0,713.7 L1170.0,709.2 L1170.0,707.8 L1172.7,705.2 L1174.2,705.7 L1174.8,709.7 L1175.0,713.0 L1176.0,713.3 L1176.6,715.7 L1180.5,715.7 L1183.0,718.2 L1184.4,718.3 L1185.3,715.3 L1185.6,712.9 L1186.8,709.8 L1187.0,707.8 L1189.0,708.4 L1191.1,708.2 L1193.5,709.2 L1196.7,711.0 L1198.7,710.5 L1200.5,712.1 L1201.6,713.3 L1204.0,715.7 L1207.9,714.4 L1208.2,716.9 L1210.0,717.6 L1211.6,720.7 L1211.8,723.5 L1212.9,726.7 L1213.5,726.9 L1213.1,730.0 L1214.7,729.6 L1215.6,725.1 L1218.3,724.8 L1221.0,726.7 L1223.5,728.7 L1227.5,730.0 L1229.3,733.2 L1229.7,736.3 L1230.7,737.1 L1232.0,739.1 L1232.7,741.8 L1233.4,744.4 L1234.4,747.8 L1236.0,748.7 L1236.6,750.9 L1236.5,753.1 L1237.9,756.1 L1238.4,753.9 L1239.3,752.5 L1240.7,748.9 L1240.4,747.0 L1242.1,743.7 L1241.8,741.8 L1244.4,740.5 L1245.4,743.8 L1245.7,744.5 L1248.2,748.4 L1248.3,749.6 L1249.9,750.5 L1252.2,754.5 L1253.0,756.1 L1254.4,755.4 L1255.3,751.3 L1254.7,748.6 L1256.2,747.0 L1256.7,744.7 L1256.6,741.4 L1257.9,740.5 L1258.2,737.9 L1258.6,742.1 L1259.8,741.6 L1260.1,746.6 L1260.9,748.3 L1262.7,747.0 L1265.3,744.4 L1266.9,744.4 L1270.5,745.7 L1272.9,748.1 L1274.3,749.1 L1275.7,752.2 L1277.6,755.0 L1279.6,757.4 L1283.6,757.4 L1284.5,760.1 L1286.3,763.4 L1287.5,764.0 L1288.2,766.1 L1287.8,767.6 L1289.6,769.8 L1288.8,772.3 L1290.1,775.7 L1290.3,779.0 L1290.6,781.2 L1289.6,780.9 L1291.1,784.2 L1291.1,786.5 L1290.2,788.5 L1290.2,792.8 L1291.2,793.3 L1291.1,795.6 L1290.4,799.5 L1291.4,800.5 L1291.9,799.5 L1292.0,796.0 L1292.0,791.8 L1293.7,791.9 L1292.9,789.6 L1294.2,785.3 L1294.0,783.5 L1294.6,782.7 L1294.7,780.5 L1294.6,776.5 L1295.9,773.7 L1295.5,773.6 L1296.2,771.1 L1296.6,767.9 L1296.5,769.1 L1297.1,771.4 L1298.6,773.9 L1298.2,775.6 L1298.5,778.7 L1298.6,779.9 L1299.2,783.5 L1301.1,783.2 L1304.4,780.9 L1305.0,777.5 L1305.5,775.0 L1307.0,773.1 L1308.5,772.9 L1311.0,775.7 L1312.6,772.9 L1312.9,771.8 L1314.1,768.1 L1316.2,766.6 L1318.6,763.6 L1319.6,764.1 L1321.4,761.3 L1323.3,762.4 L1323.7,766.4 L1325.3,767.9 L1326.8,771.5 L1328.2,773.7 L1330.5,774.4 L1332.5,771.6 L1334.4,770.5 L1335.4,771.7 L1336.9,774.4 L1338.3,777.8 L1338.4,779.0 L1339.7,782.2 L1342.5,780.6 L1344.9,780.9 L1347.3,778.0 L1348.4,777.6 L1350.1,775.7 L1351.9,776.9 L1354.4,776.9 L1357.1,776.1 L1359.2,777.0 L1361.2,777.4 L1363.0,781.6 L1365.8,782.2 L1367.2,781.0 L1368.5,778.9 L1371.0,777.0 L1372.9,776.1 L1374.9,773.9 L1377.5,774.4 L1378.9,771.4 L1380.2,770.8 L1382.7,767.9 L1383.3,765.3 L1385.4,764.2 L1386.4,762.2 L1386.6,758.7 L1386.8,760.6 L1387.4,764.5 L1389.2,766.6 L1391.3,764.4 L1392.6,763.6 L1394.5,761.3 L1397.5,762.5 L1399.7,765.3 L1401.7,766.8 L1402.5,768.2 L1402.9,772.5 L1404.9,773.1 L1406.0,776.1 L1405.3,776.2 L1406.2,779.0 L1407.5,782.2 L1408.2,783.8 L1409.6,786.1 L1409.7,782.9 L1411.9,779.9 L1412.7,778.3 L1416.0,777.2 L1418.0,775.7 L1421.0,776.9 L1423.2,779.6 L1425.2,779.3 L1427.2,776.3 L1429.7,777.0 L1432.5,776.6 L1433.6,772.9 L1436.2,773.1 L1437.9,771.4 L1437.4,768.1 L1438.6,767.8 L1439.8,766.1 L1441.4,762.7 L1442.5,759.2 L1443.1,758.0 L1443.9,757.2 L1443.6,752.7 L1445.6,751.5 L1445.4,749.6 L1446.7,747.6 L1446.8,745.5 L1447.0,741.6 L1447.2,739.2 L1446.8,742.2 L1448.0,744.1 L1449.5,745.3 L1449.6,747.4 L1450.0,752.2 L1449.7,753.8 L1450.6,756.1 L1454.1,755.9 L1455.8,754.8 L1457.2,751.7 L1457.6,749.8 L1459.5,747.0 L1461.0,745.7 L1461.6,742.3 L1463.3,741.7 L1463.4,738.0 L1464.9,736.6 L1466.2,734.2 L1468.3,731.7 L1468.8,730.0 L1470.2,733.0 L1471.6,733.7 L1474.1,735.3 L1475.9,735.0 L1478.5,733.5 L1480.6,731.3 L1480.7,734.2 L1482.3,735.9 L1483.5,739.4 L1483.0,740.1 L1484.5,743.1 L1485.5,744.1 L1487.1,747.0 L1488.2,745.0 L1491.0,744.4 L1493.0,745.7 L1496.2,745.7 L1498.1,741.9 L1500.2,740.5 L1501.6,738.2 L1503.4,735.0 L1505.4,733.9 L1506.3,734.5 L1509.8,739.1 L1510.6,740.5 L1512.0,740.8 L1515.9,739.8 L1517.1,739.2 L1519.0,738.8 L1522.2,737.6 L1525.1,736.7 L1527.6,737.9 L1531.0,737.5 L1533.0,737.6 L1535.4,735.3 L1537.4,732.7 L1538.4,730.6 L1540.6,730.0 L1541.9,731.3 L1545.6,730.2 L1547.1,731.3 L1549.1,733.0 L1552.3,733.9 L1554.3,732.7 L1554.3,729.6 L1556.3,726.1 L1557.7,724.8 L1557.5,720.9 L1559.3,719.3 L1559.2,717.9 L1560.2,715.7 L1560.9,714.8 L1561.6,710.3 L1563.3,710.2 L1564.1,707.8 L1565.2,706.3 L1565.9,704.9 L1565.6,701.3 L1565.5,698.5 L1566.8,695.6 L1567.2,694.8 L1567.9,696.2 L1567.7,701.2 L1567.3,700.6 L1568.3,703.5 L1569.1,705.4 L1569.7,710.5 L1569.3,711.8 L1570.8,709.3 L1570.8,707.7 L1572.3,704.6 L1573.2,702.6 L1575.5,704.4 L1578.4,706.5 L1580.9,706.7 L1583.6,703.7 L1585.0,703.9 L1586.6,705.7 L1588.9,707.8 L1589.5,709.7 L1589.4,711.2 L1590.1,714.8 L1591.9,718.5 L1591.5,719.6 L1594.8,719.2 L1596.7,715.7 L1600.2,716.1 L1602.5,714.3 L1604.5,715.7 L1606.6,713.9 L1607.6,711.6 L1609.8,709.2 L1613.3,711.1 L1615.0,713.1 L1617.4,712.0 L1619.0,713.5 L1621.5,711.8 L1623.2,709.9 L1627.0,709.9 L1629.3,709.2 L1631.2,708.4 L1634.6,706.5 L1636.1,705.0 L1637.9,703.1 L1639.8,701.3 L1642.5,700.1 L1644.3,698.5 L1647.6,698.7 L1650.4,698.1 L1651.0,698.3 L1653.4,695.1 L1656.0,694.8 L1658.0,694.8 L1660.2,694.1 L1661.9,693.3 L1664.6,692.2 L1665.2,690.1 L1667.4,686.5 L1668.5,685.7 L1669.1,682.1 L1669.9,682.4 L1670.8,679.7 L1672.0,675.5 L1673.2,675.2 L1672.2,673.3 L1673.7,670.0 L1673.8,671.3 L1675.2,674.9 L1675.2,675.9 L1675.5,678.0 L1674.7,681.3 L1674.6,684.4 L1675.3,685.8 L1676.6,688.6 L1677.2,691.5 L1676.8,693.5 L1679.1,691.5 L1680.7,690.4 L1681.5,687.0 L1682.5,685.8 L1684.4,683.9 L1686.7,682.1 L1688.0,679.1 L1689.9,676.7 L1693.3,675.2 L1695.1,674.8 L1696.4,670.1 L1697.6,668.5 L1698.8,668.9 L1700.1,666.1 L1700.6,665.5 L1703.0,661.3 L1703.9,660.1 L1706.0,661.2 L1709.2,662.7 L1710.4,665.1 L1709.6,665.5 L1710.2,670.2 L1710.9,671.6 L1711.7,674.2 L1712.4,674.6 L1714.0,678.1 L1714.2,681.1 L1714.4,682.3 L1716.0,678.6 L1715.7,677.0 L1716.7,677.2 L1718.1,672.4 L1718.3,671.8 L1719.0,670.7 L1721.2,667.1 L1722.2,665.3 L1724.3,663.8 L1727.2,664.1 L1728.7,664.0 L1730.7,662.4 L1730.5,659.6 L1732.1,659.4 L1733.9,656.2 L1734.8,652.5 L1734.8,651.3 L1736.1,649.7 L1736.7,646.8 L1736.7,645.2 L1738.1,641.2 L1739.2,640.5 L1740.4,639.9 L1740.9,635.0 L1743.1,634.0 L1744.0,630.8 L1743.8,629.1 L1744.3,626.9 L1745.4,625.7 L1746.8,620.4 L1746.6,620.3 L1747.0,617.0 L1749.6,619.6 L1751.0,618.3 L1751.2,615.7 L1751.3,612.4 L1752.8,612.1 L1753.7,609.3 L1753.5,606.6 L1754.2,605.3 L1756.0,602.3 L1756.6,600.1 L1757.2,602.0 L1757.4,604.6 L1756.8,606.7 L1757.7,611.2 L1758.3,611.6 L1758.7,614.4 L1760.2,611.0 L1762.7,609.2 L1764.1,609.8 L1765.2,613.9 L1767.9,614.4 L1769.8,612.9 L1771.8,611.8 L1772.3,613.5 L1771.9,615.1 L1772.6,618.2 L1773.7,621.3 L1774.5,622.9 L1774.9,626.0 L1773.6,627.0 L1775.0,631.9 L1775.2,632.7 L1775.2,631.2 L1775.5,629.1 L1775.1,625.5 L1776.9,622.5 L1775.9,619.3 L1776.0,617.7 L1777.2,615.2 L1776.9,612.8 L1777.5,612.5 L1777.8,608.0 L1777.8,606.6 L1780.4,609.4 L1782.2,609.2 L1783.0,605.4 L1783.9,605.5 L1783.6,600.8 L1783.8,599.6 L1785.7,597.5 L1786.4,593.7 L1786.1,592.2 L1786.8,590.4 L1788.5,586.7 L1789.3,584.4 L1790.3,581.6 L1789.8,579.6 L1790.4,578.0 L1791.9,575.3 L1793.9,575.9 L1796.6,576.6 L1797.6,573.7 L1798.1,570.8 L1799.8,570.5 L1800.7,566.8 L1800.5,566.1 L1801.7,569.1 L1802.1,569.4 L1802.8,571.9 L1804.4,575.3 L1805.2,576.3 L1805.6,579.7 L1805.3,582.5 L1805.7,585.0 L1806.0,586.3 L1806.6,588.4 L1806.8,592.3 L1807.2,593.2 L1807.0,596.1 L1808.0,595.5 L1807.8,591.1 L1808.3,591.0 L1808.0,585.9 L1809.1,585.8 L1809.6,583.1 L1812.1,581.4 L1813.5,580.5 L1815.8,577.7 L1816.6,575.3 L1816.6,573.5 L1818.8,572.7 L1818.5,570.5 L1820.0,567.2 L1821.3,565.5 L1820.4,562.7 L1822.0,562.8 L1821.5,557.7 L1822.7,557.0 L1825.2,554.2 L1826.6,553.1 L1830.1,551.1 L1831.8,549.2 L1832.7,546.1 L1833.7,543.8 L1833.4,542.6 L1834.4,538.7 L1834.4,541.8 L1835.1,544.0 L1836.5,547.1 L1836.6,548.5 L1838.0,552.0 L1838.9,553.1 L1839.8,551.1 L1838.5,547.4 L1838.7,545.5 L1838.7,542.4 L1839.8,541.3 L1839.0,540.0 L1839.0,536.2 L1839.6,533.5 L1840.7,532.9 L1843.8,529.3 L1844.9,528.3 L1845.9,527.1 L1845.6,523.3 L1846.5,522.8 L1846.5,519.9 L1847.9,516.9 L1848.4,516.1 L1848.8,512.6 L1848.7,511.7 L1849.4,509.2 L1850.8,505.1 L1851.2,505.5 L1850.6,500.2 L1851.4,499.6 L1850.8,498.7 L1850.8,496.0 L1851.2,493.0 L1851.3,488.7 L1852.6,486.0 L1852.1,486.2 L1853.0,483.7 L1852.7,480.0 L1854.4,476.4 L1853.8,476.8 L1855.4,472.3 L1855.8,470.8 L1856.6,469.6 L1856.9,470.7 L1856.5,475.9 L1857.5,478.0 L1857.6,479.1 L1858.1,481.3 L1859.2,483.9 L1859.1,486.7 L1859.6,489.1 L1860.9,489.4 L1861.1,492.9 L1862.8,494.6 L1862.0,498.9 L1863.1,499.6 L1864.3,498.0 L1863.5,493.9 L1863.9,491.3 L1864.0,490.3 L1865.1,488.2 L1865.4,484.1 L1866.5,483.8 L1866.7,481.2 L1867.0,478.7 L1867.8,482.4 L1868.6,483.8 L1868.1,484.7 L1868.6,488.9 L1868.9,489.2 L1869.6,491.8 L1870.1,493.0 L1871.9,495.0 L1871.8,500.3 L1871.8,501.7 L1872.7,502.9 L1873.6,506.1 L1875.0,507.5 L1877.5,511.3 L1879.1,514.2 L1880.2,513.8 L1880.8,516.7 L1881.4,519.2 L1881.9,521.7 L1881.6,525.4 L1881.2,527.0 L1883.1,528.6 L1882.9,532.5 L1882.5,533.7 L1883.7,535.2 L1883.9,537.6 L1883.8,540.6 L1884.0,542.6 L1884.8,539.6 L1885.1,538.0 L1884.8,535.8 L1885.3,534.4 L1886.1,531.4 L1886.6,528.3 L1887.0,526.0 L1886.8,522.8 L1888.6,521.9 L1888.2,519.7 L1889.1,516.6 L1888.2,516.3 L1889.2,513.5 L1890.3,512.1 L1890.0,508.7 L1891.8,509.2 L1892.0,513.7 L1893.9,513.3 L1894.4,516.5 L1894.5,513.6 L1895.2,511.9 L1897.4,510.3 L1897.5,506.9 L1898.4,506.1 L1898.6,510.1 L1899.6,510.7 L1899.7,514.3 L1900.6,514.6 L1900.9,517.7 L1901.0,520.5 L1902.0,521.9 L1902.7,524.5 L1903.7,525.8 L1904.9,529.6 L1906.3,527.9 L1908.8,525.7 L1908.5,526.9 L1910.3,529.4 L1910.1,531.6 L1911.7,533.3 L1911.8,538.0 L1911.6,538.8 L1912.7,541.3 L1914.6,543.7 L1915.3,545.3 L1915.8,541.6 L1916.7,540.4 L1917.9,537.9 L1918.1,536.8 L1919.6,533.6 L1919.5,532.1 L1920.5,529.6 L1922.6,526.3 L1924.1,525.7 L1924.2,523.3 L1925.8,520.5 L1928.1,517.8 L1931.0,517.8 L1932.8,519.7 L1933.6,522.4 L1935.7,525.5 L1936.2,527.0 L1937.2,529.2 L1940.1,530.9 L1940.8,533.1 L1942.3,535.2 L1942.4,539.0 L1943.2,540.0 L1944.7,538.2 L1946.4,537.6 L1947.9,534.8 L1949.0,537.9 L1949.3,538.0 L1950.6,542.1 L1951.5,545.1 L1951.8,546.6 L1953.1,547.7 L1955.8,550.5 L1958.4,553.1 L1958.9,551.8 L1960.2,547.2 L1962.8,546.4 L1963.6,543.9 L1964.7,546.5 L1967.5,547.9 L1968.6,545.4 L1967.9,543.7 L1969.3,541.0 L1971.1,539.3 L1971.5,534.8 L1971.4,533.5 L1972.4,531.0 L1974.0,528.3 L1974.4,532.0 L1976.2,531.9 L1977.9,534.8 L1978.2,536.4 L1979.9,539.8 L1979.9,541.7 L1979.7,543.8 L1981.9,547.8 L1981.9,549.2 L1985.2,547.1 L1987.1,546.6 L1988.5,543.8 L1991.0,543.9 L1992.8,540.9 L1994.4,538.7 L1995.1,541.3 L1996.1,543.5 L1997.3,545.6 L1997.5,549.2 L2000.5,548.1 L2001.0,546.0 L2004.0,545.3 L2006.3,545.4 L2008.5,545.6 L2010.6,546.6 L2012.8,548.2 L2015.8,547.9 L2018.0,548.6 L2021.6,548.2 L2023.6,547.9 L2026.1,549.3 L2028.7,549.1 L2031.4,547.9 L2031.5,550.3 L2033.5,551.7 L2034.1,555.7 L2035.2,556.8 L2035.0,559.5 L2036.0,563.2 L2036.2,565.4 L2036.3,568.4 L2035.9,569.3 L2036.7,572.7 L2038.1,573.6 L2039.1,575.9 L2038.3,577.6 L2040.4,582.5 L2040.6,583.1 L2041.1,581.0 L2041.9,577.9 L2042.2,581.3 L2043.8,581.0 L2043.4,584.8 L2044.1,587.3 L2045.8,588.3 L2046.5,590.0 L2048.2,592.9 L2049.2,596.1 L2049.8,592.6 L2050.9,590.7 L2051.2,587.7 L2051.5,588.0 L2051.2,582.5 L2051.6,582.1 L2052.3,579.2 L2053.5,581.1 L2055.0,582.6 L2057.5,584.4 L2059.5,581.6 L2060.7,579.2 L2062.2,579.9 L2063.7,581.9 L2065.0,586.6 L2065.4,587.0 L2068.8,587.7 L2070.6,588.3 L2072.4,589.1 L2075.4,590.9 L2077.1,592.2 L2079.7,588.7 L2080.5,589.0 L2082.3,585.7 L2083.8,583.7 L2084.1,580.2 L2086.2,579.2 L2087.1,582.4 L2088.9,583.1 L2091.7,581.8 L2094.0,580.7 L2095.4,581.8 L2098.2,582.4 L2100.3,581.5 L2103.2,579.2 L2105.5,575.8 L2107.1,575.3 L2107.0,572.8 L2107.1,571.4 L2107.3,569.1 L2107.8,564.5 L2108.4,563.5 L2111.1,561.6 L2113.6,562.2 L2115.7,561.2 L2117.6,558.3 L2120.4,558.2 L2122.8,558.3 L2122.5,556.0 L2123.3,554.1 L2124.0,551.5 L2125.0,548.5 L2125.9,546.6 L2126.8,543.3 L2126.4,543.6 L2127.3,541.1 L2128.9,537.8 L2128.1,534.4 L2129.3,533.5 L2132.0,530.3 L2133.2,529.6 L2135.1,527.8 L2137.1,525.7 L2137.3,527.9 L2138.4,530.4 L2140.0,532.1 L2141.0,534.8 L2141.8,532.3 L2143.1,529.3 L2145.0,528.3 L2145.1,527.3 L2146.1,525.2 L2145.8,523.2 L2147.2,520.5 L2148.0,518.0 L2148.4,515.2 L2148.3,513.6 L2148.6,509.6 L2148.8,507.6 L2150.2,504.9 L2151.4,501.8 L2151.2,499.9 L2151.5,498.3 L2152.3,501.5 L2153.1,501.6 L2152.9,505.6 L2154.9,506.2 L2154.6,510.0 L2155.7,508.3 L2156.9,504.9 L2157.7,503.1 L2158.0,500.9 L2159.6,501.7 L2160.4,505.3 L2160.2,506.6 L2160.6,511.0 L2161.9,512.6 L2163.1,513.7 L2163.3,515.8 L2164.5,519.2 L2168.4,520.5 L2168.5,517.5 L2169.4,517.8 L2171.3,515.1 L2171.0,512.0 L2172.2,511.2 L2172.9,508.2 L2172.5,506.0 L2173.7,503.5 L2175.3,506.7 L2174.9,508.7 L2176.3,509.2 L2177.6,512.6 L2181.5,513.9 L2184.3,517.1 L2185.4,519.2 L2187.2,515.8 L2188.6,516.2 L2189.3,512.6 L2192.7,514.3 L2195.2,515.3 L2197.2,515.2 L2197.8,517.2 L2198.8,520.6 L2199.3,521.3 L2200.0,524.3 L2200.4,525.2 L2200.9,529.6 L2200.5,530.9 L2202.9,532.0 L2206.3,530.9 L2208.4,528.6 L2211.5,528.3 L2212.4,529.7 L2213.4,534.2 L2214.8,535.8 L2215.4,537.4 L2215.4,535.9 L2216.5,533.2 L2217.0,531.2 L2216.2,526.4 L2217.0,526.4 L2216.6,523.2 L2217.2,520.5 L2220.8,521.4 L2223.2,520.5 L2223.6,522.4 L2224.9,523.2 L2227.8,526.1 L2228.5,528.3 L2229.5,530.5 L2229.7,532.1 L2230.6,536.4 L2231.8,537.0 L2232.4,540.0 L2234.2,537.3 L2237.6,536.1 L2239.3,538.2 L2240.5,541.7 L2240.8,543.6 L2242.8,545.3 L2243.7,544.1 L2245.7,540.2 L2248.0,538.7 L2251.5,538.9 L2253.3,540.0 L2253.8,538.9 L2255.6,536.6 L2256.2,533.0 L2258.3,530.7 L2258.5,528.3 L2261.6,526.0 L2263.5,524.6 L2265.0,524.4 L2266.7,521.1 L2267.7,522.4 L2270.0,519.2 L2272.0,518.1 L2274.2,515.0 L2276.3,516.1 L2279.4,518.1 L2279.7,520.7 L2282.2,523.1 L2282.6,525.5 L2286.8,526.5 L2287.2,530.5 L2288.8,532.3 L2287.9,534.8 L2289.3,537.0 L2289.2,540.8 L2289.1,542.2 L2289.7,543.6 L2289.5,546.9 L2290.3,548.7 L2289.3,552.6 L2288.8,554.4 L2290.0,555.9 L2289.6,558.8 L2290.5,561.1 L2290.3,561.2 L2289.5,563.9 L2289.9,567.4 L2291.6,566.3 L2290.8,562.9 L2292.4,558.8 L2293.1,557.9 L2293.3,556.4 L2294.2,552.6 L2294.8,550.3 L2294.8,548.4 L2295.1,546.4 L2298.3,548.5 L2300.3,546.6 L2301.0,544.4 L2301.2,542.9 L2302.5,539.1 L2305.0,541.3 L2306.7,542.2 L2308.9,539.6 L2311.9,539.1 L2312.7,537.6 L2313.7,533.6 L2313.1,531.6 L2315.2,527.9 L2315.1,526.5 L2316.6,523.3 L2316.8,520.9 L2317.8,519.8 L2319.2,518.1 L2321.2,521.7 L2320.7,521.7 L2322.4,524.4 L2324.8,521.3 L2325.5,520.2 L2327.3,522.1 L2329.7,524.4 L2329.6,521.2 L2330.9,519.2 L2331.8,517.1 L2335.3,517.4 L2337.1,519.2 L2339.1,521.0 L2342.3,520.2 L2344.8,522.9 L2347.5,523.4 L2350.9,524.3 L2353.8,523.4 L2356.4,521.7 L2359.7,522.3 L2360.8,519.6 L2361.1,517.6 L2362.1,513.7 L2362.2,511.8 L2363.5,510.5 L2365.3,506.6 L2367.8,504.9 L2370.5,503.8 L2372.7,503.5 L2375.3,503.6 L2376.9,506.6 L2381.1,505.5 L2382.3,508.1 L2381.9,511.7 L2382.2,511.8 L2383.2,515.0 L2387.4,513.9 L2390.5,510.8 L2391.8,512.0 L2394.7,512.9 L2397.8,512.9 L2399.9,511.8 L2401.5,511.4 L2402.7,508.4 L2405.2,507.6 L2406.3,506.7 L2407.0,503.5 L2408.1,500.2 L2408.3,498.2 L2411.7,497.4 L2413.5,495.1 L2413.9,492.0 L2415.5,489.0 L2415.6,486.7 L2417.1,486.3 L2419.8,483.5 L2420.9,481.2 L2422.2,480.1 L2422.2,475.9 L2424.0,474.1 L2424.2,475.9 L2426.1,478.3 L2427.2,477.0 L2428.6,473.7 L2429.3,471.0 L2432.2,472.3 L2435.5,473.1 L2435.5,471.7 L2436.9,469.1 L2436.1,466.1 L2437.7,463.0 L2437.6,460.5 L2439.8,459.7 L2440.9,457.3 L2441.8,454.2 L2442.7,453.1 L2442.4,450.3 L2444.1,447.7 L2443.9,443.6 L2445.0,442.7 L2445.5,441.3 L2445.3,436.9 L2445.5,434.1 L2446.7,434.4 L2447.3,430.0 L2447.1,428.0 L2448.2,423.8 L2449.2,421.8 L2449.2,419.6 L2449.8,421.6 L2452.3,422.8 L2452.7,424.7 L2454.4,428.0 L2454.1,430.2 L2455.6,433.7 L2455.1,436.1 L2456.5,437.4 L2459.6,438.5 L2459.6,434.8 L2461.2,432.4 L2461.7,430.1 L2462.2,427.7 L2462.8,425.8 L2463.5,423.3 L2464.9,419.6 L2466.0,417.1 L2465.0,415.3 L2465.6,411.8 L2467.0,409.2 L2468.4,405.2 L2470.1,403.9 L2471.0,401.8 L2471.7,398.0 L2472.2,395.5 L2472.7,398.2 L2472.7,401.4 L2474.7,403.6 L2474.3,405.0 L2476.2,407.6 L2476.4,411.2 L2478.1,407.8 L2478.0,405.9 L2478.7,405.6 L2479.6,402.9 L2480.6,400.4 L2480.5,397.3 L2481.3,395.2 L2481.5,394.4 L2482.7,391.3 L2485.8,393.4 L2486.9,395.7 L2487.4,399.0 L2489.0,400.8 L2489.5,397.4 L2491.1,395.5 L2493.3,395.1 L2495.3,393.4 L2497.8,392.5 L2499.4,391.3 L2500.1,388.2 L2501.4,391.7 L2500.9,392.9 L2502.6,396.6 L2502.5,399.9 L2504.6,401.2 L2504.5,402.4 L2505.8,405.0 L2505.9,403.3 L2508.3,400.2 L2507.2,397.7 L2508.9,396.6 L2510.7,396.8 L2513.1,394.5 L2514.3,396.9 L2513.6,398.3 L2514.3,402.9 L2515.5,406.1 L2516.2,407.1 L2517.4,410.4 L2517.1,412.9 L2516.9,413.0 L2518.2,416.7 L2517.9,418.2 L2518.0,422.7 L2519.4,423.8 L2520.9,427.9 L2521.5,429.1 L2524.5,427.8 L2525.7,427.0 L2528.8,430.1 L2530.0,427.4 L2530.9,426.5 L2530.4,421.5 L2531.9,420.7 L2532.2,423.3 L2533.3,423.8 L2534.9,428.7 L2535.1,430.1 L2535.7,430.7 L2537.2,434.4 L2537.2,436.4 L2537.4,433.4 L2539.5,432.8 L2540.3,429.1 L2542.4,430.6 L2544.5,431.2 L2546.0,432.4 L2548.7,435.3 L2551.1,437.6 L2551.9,440.6 L2551.5,438.6 L2552.0,435.0 L2553.0,434.0 L2553.8,432.1 L2553.9,429.1 L2554.5,424.9 L2555.7,422.1 L2556.0,420.7 L2559.2,419.6 L2559.9,417.2 L2561.1,416.1 L2561.0,413.8 L2562.3,411.2 L2564.8,409.6 L2566.5,408.1 L2567.9,408.7 L2570.9,405.3 L2572.8,406.0 L2574.4,406.0 L2577.0,402.9 L2577.2,405.0 L2579.0,408.8 L2579.1,410.2 L2583.3,409.2 L2584.3,412.3 L2584.0,412.6 L2586.5,417.2 L2586.4,418.6 L2588.5,416.5 L2588.1,412.8 L2588.9,413.4 L2589.3,410.3 L2591.2,408.0 L2591.6,404.5 L2590.6,401.5 L2591.7,400.8 L2593.2,397.4 L2594.7,397.3 L2594.8,394.5 L2595.6,393.0 L2597.0,389.7 L2599.0,387.2 L2599.8,390.2 L2602.1,391.3 L2605.5,391.6 L2607.4,389.2 L2608.0,387.7 L2610.5,384.0 L2611.7,387.5 L2612.6,389.3 L2613.7,391.3 L2615.3,394.0 L2615.7,393.4 L2617.9,396.6 L2622.1,396.6 L2623.0,398.0 L2623.5,399.2 L2624.9,401.4 L2625.2,405.0 L2627.9,407.5 L2629.4,408.1 L2631.4,405.9 L2633.9,405.1 L2635.7,405.0 L2637.0,405.8 L2639.4,409.3 L2639.9,411.2 L2641.2,412.6 L2643.0,416.5 L2647.2,415.4 L2648.2,418.8 L2648.9,418.7 L2648.5,421.6 L2649.8,423.4 L2650.0,428.3 L2650.3,429.1 L2652.2,425.8 L2652.3,424.3 L2654.5,423.8 L2655.7,421.8 L2656.1,419.0 L2656.7,417.1 L2657.7,414.4 L2661.9,413.3 L2663.0,417.0 L2664.0,418.9 L2665.2,421.3 L2665.7,421.1 L2666.1,424.9 L2667.3,423.7 L2667.6,421.5 L2668.0,419.4 L2669.3,416.3 L2670.3,413.3 L2670.3,415.0 L2671.0,417.5 L2671.0,420.2 L2672.3,422.8 L2675.3,422.2 L2676.5,420.7 L2678.7,419.8 L2679.9,418.7 L2680.7,415.4 L2682.5,412.9 L2682.9,411.5 L2683.8,409.1 L2686.0,408.1 L2687.8,411.5 L2687.8,413.2 L2689.7,415.6 L2690.2,416.5 L2692.9,418.2 L2694.4,419.6 L2696.2,421.2 L2699.6,420.7 L2701.3,422.2 L2703.8,422.8 L2704.1,425.4 L2705.7,426.6 L2705.4,430.6 L2705.9,433.9 L2706.2,436.3 L2706.9,437.4 L2708.3,441.5 L2709.0,442.7 L2710.3,440.7 L2713.2,440.6 L2714.9,440.8 L2716.5,437.7 L2719.5,437.4 L2722.6,439.5 L2723.4,443.4 L2722.7,443.9 L2724.0,447.0 L2724.5,449.4 L2723.9,450.1 L2724.7,453.2 L2724.1,456.0 L2724.7,456.9 L2726.4,460.3 L2725.9,462.6 L2726.2,464.9 L2725.9,465.2 L2725.7,467.2 L2726.8,471.0 L2728.1,467.2 L2730.0,465.7 L2730.8,467.8 L2733.1,469.9 L2735.6,469.0 L2736.3,466.8 L2739.4,469.9 L2740.0,468.7 L2740.9,464.4 L2742.2,463.3 L2743.6,461.5 L2746.7,458.4 L2749.7,457.7 L2752.0,457.4 L2755.0,455.1 L2757.2,455.3 L2759.1,456.9 L2759.9,457.9 L2761.0,460.6 L2761.4,463.6 L2763.5,466.3 L2764.5,466.4 L2765.6,468.9 L2766.8,469.0 L2769.8,471.0 L2771.4,467.5 L2771.7,466.5 L2772.4,462.9 L2772.9,461.5 L2772.8,462.8 L2775.1,466.4 L2775.1,469.6 L2775.4,472.0 L2778.2,471.0" fill="none" stroke="#333" stroke-width="4.5" stroke-linejoin="miter" stroke-miterlimit="3" stroke-linecap="butt"/>
<rect x="163" y="308" width="4" height="1124" fill="#f7931a"/>
<rect x="2791" y="308" width="4" height="1124" fill="#333"/>
<rect x="177" y="1432" width="2604" height="2" fill="#d7dbe3"/>
<path d="M316.3,1434V1452 M509.8,1434V1452 M703.2,1434V1452 M896.7,1434V1452 M1090.2,1434V1452 M1283.7,1434V1452 M1477.1,1434V1452 M1670.6,1434V1452 M1864.1,1434V1452 M2057.6,1434V1452 M2251.1,1434V1452 M2444.5,1434V1452 M2638.0,1434V1452" stroke="#ececee" stroke-width="2" fill="none"/>
<text transform="translate(317.5,1471.8) scale(1.10,1)" font-size="25.2" fill="#474c58" text-anchor="middle">2010</text>
<text transform="translate(511.0,1471.8) scale(1.10,1)" font-size="25.2" fill="#474c58" text-anchor="middle">2011</text>
<text transform="translate(704.5,1471.8) scale(1.10,1)" font-size="25.2" fill="#474c58" text-anchor="middle">2012</text>
<text transform="translate(897.9,1471.8) scale(1.10,1)" font-size="25.2" fill="#474c58" text-anchor="middle">2013</text>
<text transform="translate(1091.4,1471.8) scale(1.10,1)" font-size="25.2" fill="#474c58" text-anchor="middle">2014</text>
<text transform="translate(1284.9,1471.8) scale(1.10,1)" font-size="25.2" fill="#474c58" text-anchor="middle">2015</text>
<text transform="translate(1478.3,1471.8) scale(1.10,1)" font-size="25.2" fill="#474c58" text-anchor="middle">2016</text>
<text transform="translate(1671.8,1471.8) scale(1.10,1)" font-size="25.2" fill="#474c58" text-anchor="middle">2017</text>
<text transform="translate(1865.3,1471.8) scale(1.10,1)" font-size="25.2" fill="#474c58" text-anchor="middle">2018</text>
<text transform="translate(2058.8,1471.8) scale(1.10,1)" font-size="25.2" fill="#474c58" text-anchor="middle">2019</text>
<text transform="translate(2252.2,1471.8) scale(1.10,1)" font-size="25.2" fill="#474c58" text-anchor="middle">2020</text>
<text transform="translate(2445.7,1471.8) scale(1.10,1)" font-size="25.2" fill="#474c58" text-anchor="middle">2021</text>
<text transform="translate(2639.2,1471.8) scale(1.10,1)" font-size="25.2" fill="#474c58" text-anchor="middle">2022</text>
<text transform="translate(147.3,1428.1) scale(1.14,1)" font-size="21.5" fill="#777" text-anchor="end">0</text>
<text transform="translate(147.3,1147.1) scale(1.14,1)" font-size="21.5" fill="#777" text-anchor="end">200K</text>
<text transform="translate(147.3,866.1) scale(1.14,1)" font-size="21.5" fill="#777" text-anchor="end">400K</text>
<text transform="translate(147.3,585.1) scale(1.14,1)" font-size="21.5" fill="#777" text-anchor="end">600K</text>
<text transform="translate(2811,351.7) scale(1.10,1)" font-size="22.3" fill="#777">$100k</text>
<text transform="translate(2811,387.4) scale(1.10,1)" font-size="22.3" fill="#777">$60k</text>
<text transform="translate(2811,464.1) scale(1.10,1)" font-size="22.3" fill="#777">$20k</text>
<text transform="translate(2811,528.0) scale(1.10,1)" font-size="22.3" fill="#777">$8k</text>
<text transform="translate(2811,576.4) scale(1.10,1)" font-size="22.3" fill="#777">$4k</text>
<text transform="translate(2811,673.2) scale(1.10,1)" font-size="22.3" fill="#777">$1k</text>
<text transform="translate(2811,708.9) scale(1.10,1)" font-size="22.3" fill="#777">$600</text>
<text transform="translate(2811,785.6) scale(1.10,1)" font-size="22.3" fill="#777">$200</text>
<text transform="translate(2811,849.5) scale(1.10,1)" font-size="22.3" fill="#777">$80</text>
<text transform="translate(2811,897.9) scale(1.10,1)" font-size="22.3" fill="#777">$40</text>
<text transform="translate(2811,994.0) scale(1.10,1)" font-size="22.3" fill="#777">$10</text>
<text transform="translate(2811,1029.2) scale(1.10,1)" font-size="22.3" fill="#777">$6</text>
<text transform="translate(2811,1105.7) scale(1.10,1)" font-size="22.3" fill="#777">$2</text>
<text transform="translate(2811,1169.7) scale(1.10,1)" font-size="22.3" fill="#777">$0.80</text>
<text transform="translate(2811,1218.1) scale(1.10,1)" font-size="22.3" fill="#777">$0.40</text>
<text transform="translate(2811,1314.9) scale(1.10,1)" font-size="22.3" fill="#777">$0.10</text>
<text transform="translate(2811,1350.5) scale(1.10,1)" font-size="22.3" fill="#777">$0.06</text>
<text transform="translate(2811,1427.2) scale(1.10,1)" font-size="22.3" fill="#777">$0.02</text>
<path d="M1373,442.0V451.4 M1373,471.0V491.2 M1373,510.8V531.0 M1373,550.5V570.7 M1373,590.3V610.5 M1373,630.0V650.2 M1373,669.8V690.0 M1373,709.5V729.7 M1373,749.3V769.5 M1373,789.0V809.2 M1373,828.8V849.0 M1373,868.6V888.8 M1373,908.3V928.5 M1373,948.1V968.3 M1373,987.8V1008.0 M1373,1027.6V1047.8 M1373,1067.3V1087.5 M1373,1107.1V1127.3 M1373,1146.9V1167.1 M1373,1186.6V1206.8 M1373,1226.4V1238.0 M1631,333.8V343.8 M1631,363.5V383.7 M1631,403.4V423.6 M1631,443.3V463.5 M1631,483.2V503.4 M1631,523.1V543.3 M1631,562.9V583.1 M1631,602.8V623.0 M1631,642.7V662.9 M1631,682.6V702.8 M1631,722.5V742.7 M1631,762.4V782.6 M1631,802.3V822.5 M1631,842.2V862.4 M1631,882.1V902.3 M1631,922.0V942.2 M1631,961.8V982.0 M1631,1001.7V1021.9 M1631,1041.6V1061.8 M1631,1081.5V1101.7 M1631,1121.4V1141.6 M1631,1161.3V1172.0 M1983,442.0V452.7 M1983,472.2V492.4 M1983,511.9V532.1 M1983,551.6V571.8 M1983,591.3V611.5 M1983,631.0V651.2 M1983,670.7V690.9 M1983,710.3V730.5 M1983,750.0V770.2 M1983,789.7V809.9 M1983,829.4V849.6 M1983,869.1V889.3 M1983,908.8V929.0 M1983,948.5V968.7 M1983,988.2V1008.4 M1983,1027.9V1048.1 M1983,1067.6V1087.8 M1983,1107.2V1127.4 M1983,1146.9V1167.1 M1983,1186.6V1206.8 M1983,1226.3V1238.0 M2357,391.7V401.8 M2357,421.8V442.0 M2357,462.0V482.2 M2357,502.2V522.4 M2357,542.3V562.5 M2357,582.5V602.7 M2357,622.7V642.9 M2357,662.9V683.1 M2357,703.1V723.3 M2357,743.2V763.4 M2357,783.4V803.6 M2357,823.6V843.8 M2357,863.8V884.0 M2357,904.0V924.2 M2357,944.1V964.3 M2357,984.3V1004.5 M2357,1024.5V1044.7 M2357,1064.7V1084.9 M2357,1104.9V1125.1 M2357,1145.0V1165.2 M2357,1185.2V1205.4 M2357,1225.4V1236.0" stroke="#0055ff" stroke-width="6" fill="none"/>
<path d="M457.0,1279H468.2 M488.4,1279H508.2 M528.3,1279H548.1 M568.3,1279H588.1 M608.2,1279H628.0 M648.2,1279H668.0 M688.2,1279H708.0 M728.1,1279H747.9 M768.1,1279H787.9 M808.0,1279H827.8 M848.0,1279H867.8 M887.9,1279H907.7 M927.9,1279H947.7 M967.9,1279H987.7 M1007.8,1279H1027.6 M1047.8,1279H1067.6 M1087.7,1279H1107.5 M1127.7,1279H1147.5 M1167.6,1279H1187.4 M1207.6,1279H1227.4 M1247.6,1279H1267.4 M1287.5,1279H1307.3 M1327.5,1279H1347.3 M1367.4,1279H1387.2 M1407.4,1279H1427.2 M1447.3,1279H1467.1 M1487.3,1279H1507.1 M1527.3,1279H1547.1 M1567.2,1279H1587.0 M1607.2,1279H1627.0 M1647.1,1279H1666.9 M1687.1,1279H1706.9 M1727.0,1279H1746.8 M1767.0,1279H1786.8 M1807.0,1279H1826.8 M1846.9,1279H1866.7 M1886.9,1279H1906.7 M1926.8,1279H1946.6 M1966.8,1279H1986.6 M2006.7,1279H2026.5 M2046.7,1279H2066.5 M2086.7,1279H2106.5 M2126.6,1279H2146.4 M2166.6,1279H2186.4 M2206.5,1279H2226.3 M2246.5,1279H2266.3 M2286.4,1279H2306.2 M2326.4,1279H2346.2 M2366.4,1279H2386.2 M2406.3,1279H2426.1 M2446.3,1279H2466.1 M2486.2,1279H2506.0 M2526.2,1279H2546.0 M2566.1,1279H2585.9 M2606.1,1279H2625.9 M2646.1,1279H2665.9 M2686.0,1279H2705.8 M2726.0,1279H2745.8 M2765.9,1279H2777.0" stroke="#0055ff" stroke-width="5.8" fill="none"/>
<circle cx="1375" cy="1253.2" r="25.85" fill="rgba(0,85,255,0.14)" stroke="#0055ff" stroke-width="6" stroke-dasharray="20.3 20.3" stroke-dashoffset="10.15"/>
<circle cx="1632.6" cy="1187" r="25.85" fill="rgba(0,85,255,0.14)" stroke="#0055ff" stroke-width="6" stroke-dasharray="20.3 20.3" stroke-dashoffset="10.15"/>
<circle cx="1985" cy="1253.2" r="25.85" fill="rgba(0,85,255,0.14)" stroke="#0055ff" stroke-width="6" stroke-dasharray="20.3 20.3" stroke-dashoffset="10.15"/>
<circle cx="2358" cy="1252.9" r="25.85" fill="rgba(0,85,255,0.14)" stroke="#0055ff" stroke-width="6" stroke-dasharray="20.3 20.3" stroke-dashoffset="10.15"/>
<circle cx="2776" cy="1271.8" r="42.6" fill="rgba(0,85,255,0.14)" stroke="#0055ff" stroke-width="6.4" stroke-dasharray="16.73 16.73" stroke-dashoffset="8.36"/>
<text x="1234.99" y="411.9" font-size="63.6" font-weight="bold" fill="#0055ff" stroke="#0055ff" stroke-width="0.5" textLength="108.69" lengthAdjust="spacingAndGlyphs">Jun</text>
<text x="1344.61" y="411.9" font-size="63.6" font-weight="bold" fill="#0055ff" stroke="#0055ff" stroke-width="0.5" textLength="25.48" lengthAdjust="spacingAndGlyphs">-</text>
<text x="1370.95" y="411.9" font-size="63.6" font-weight="bold" fill="#0055ff" stroke="#0055ff" stroke-width="0.5" textLength="145.22" lengthAdjust="spacingAndGlyphs">2015</text>
<text x="1501.3" y="305.8" font-size="63.6" font-weight="bold" fill="#0055ff" stroke="#0055ff" stroke-width="0.5" textLength="102.65" lengthAdjust="spacingAndGlyphs">Oct</text>
<text x="1606.21" y="305.8" font-size="63.6" font-weight="bold" fill="#0055ff" stroke="#0055ff" stroke-width="0.5" textLength="25.48" lengthAdjust="spacingAndGlyphs">-</text>
<text x="1632.03" y="305.8" font-size="63.6" font-weight="bold" fill="#0055ff" stroke="#0055ff" stroke-width="0.5" textLength="146.47" lengthAdjust="spacingAndGlyphs">2016</text>
<text x="1856.5" y="392.1" font-size="63.6" font-weight="bold" fill="#0055ff" stroke="#0055ff" stroke-width="0.5" textLength="121.41" lengthAdjust="spacingAndGlyphs">Aug</text>
<text x="1977.71" y="392.1" font-size="63.6" font-weight="bold" fill="#0055ff" stroke="#0055ff" stroke-width="0.5" textLength="26.07" lengthAdjust="spacingAndGlyphs">-</text>
<text x="2004.23" y="392.1" font-size="63.6" font-weight="bold" fill="#0055ff" stroke="#0055ff" stroke-width="0.5" textLength="146.74" lengthAdjust="spacingAndGlyphs">2018</text>
<text x="2223.3" y="372.5" font-size="63.6" font-weight="bold" fill="#0055ff" stroke="#0055ff" stroke-width="0.5" textLength="88.34" lengthAdjust="spacingAndGlyphs">Jul</text>
<text x="2311.88" y="372.5" font-size="63.6" font-weight="bold" fill="#0055ff" stroke="#0055ff" stroke-width="0.5" textLength="26.65" lengthAdjust="spacingAndGlyphs">-</text>
<text x="2338.1" y="372.5" font-size="63.6" font-weight="bold" fill="#0055ff" stroke="#0055ff" stroke-width="0.5" textLength="158.08" lengthAdjust="spacingAndGlyphs">2020</text>
<text x="1484.7" y="1340.0" font-size="62.2" font-weight="bold" fill="#0055ff" stroke="#0055ff" stroke-width="0.5" textLength="241.2" lengthAdjust="spacingAndGlyphs">CDD-90</text>
<text x="1738.94" y="1340.0" font-size="62.2" font-weight="bold" fill="#0055ff" stroke="#0055ff" stroke-width="0.5" textLength="311.91" lengthAdjust="spacingAndGlyphs">Effectively</text>
<text x="2068.0" y="1340.0" font-size="62.2" font-weight="bold" fill="#0055ff" stroke="#0055ff" stroke-width="0.5" textLength="113.14" lengthAdjust="spacingAndGlyphs">ATL</text>
<text x="1619.4" y="1411.8" font-size="62.2" font-weight="bold" fill="#0055ff" stroke="#0055ff" stroke-width="0.5" textLength="129.03" lengthAdjust="spacingAndGlyphs">112k</text>
<text x="1772.6" y="1411.8" font-size="62.2" font-weight="bold" fill="#0055ff" stroke="#0055ff" stroke-width="0.5" textLength="274.18" lengthAdjust="spacingAndGlyphs">CoinDays</text>
<text id="foot" x="67" y="1642.5" font-size="29" fill="#8a8a8a" textLength="533" lengthAdjust="spacingAndGlyphs">© 2022 Glassnode. All Rights Reserved.</text>
<g stroke="#0a0a0a" transform="translate(2670,1590) scale(0.10676)"><use href="#gn"/><use href="#ge1"/></g>
</svg></body></html>
